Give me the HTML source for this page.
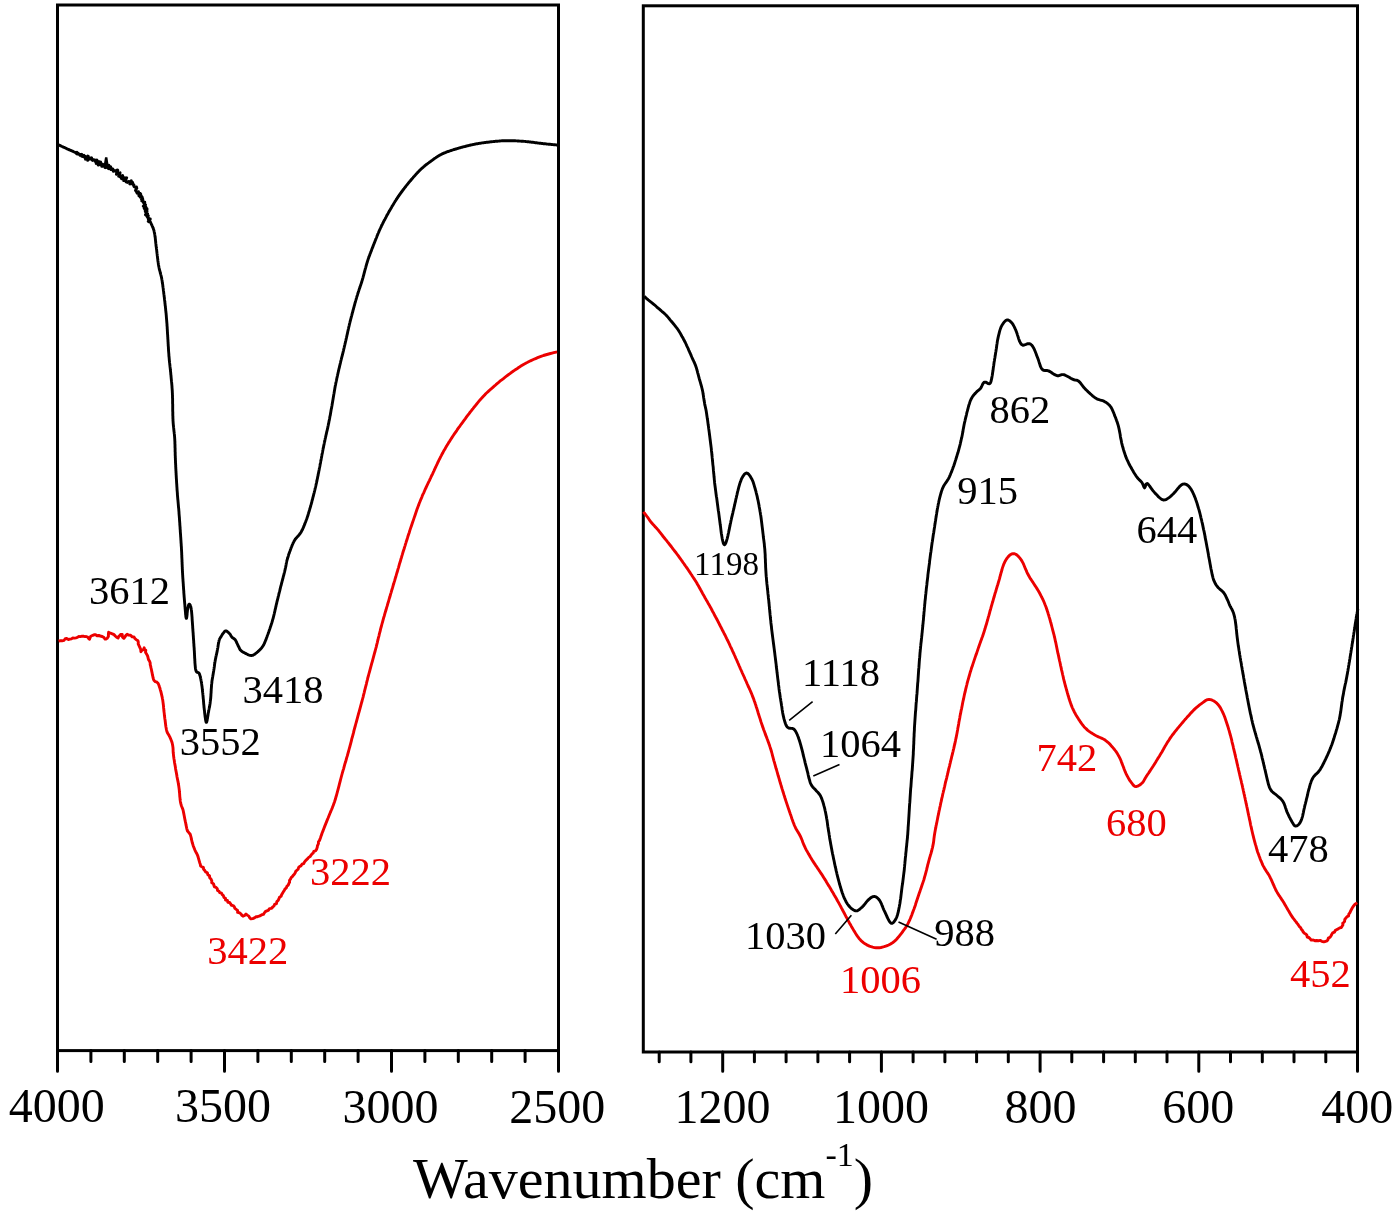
<!DOCTYPE html>
<html><head><meta charset="utf-8"><title>FTIR spectra</title>
<style>html,body{margin:0;padding:0;background:#fff;}body{width:1400px;height:1214px;overflow:hidden;font-family:"Liberation Serif",serif;}svg{display:block;will-change:transform;}</style>
</head><body>
<svg width="1400" height="1214" viewBox="0 0 1400 1214" font-family="'Liberation Serif', serif"><rect x="57.5" y="5.0" width="501.0" height="1045.6" fill="none" stroke="#000" stroke-width="3"/>
<rect x="643.3" y="5.8" width="714.2" height="1046.2" fill="none" stroke="#000" stroke-width="3"/>
<path d="M57.5 1050.6 V1071.3M90.9 1050.6 V1061.4M124.3 1050.6 V1061.4M157.7 1050.6 V1061.4M191.1 1050.6 V1061.4M224.5 1050.6 V1071.3M257.9 1050.6 V1061.4M291.3 1050.6 V1061.4M324.7 1050.6 V1061.4M358.1 1050.6 V1061.4M391.5 1050.6 V1071.3M424.9 1050.6 V1061.4M458.3 1050.6 V1061.4M491.7 1050.6 V1061.4M525.1 1050.6 V1061.4M558.5 1050.6 V1071.3M659.2 1052.0 V1061.8M690.9 1052.0 V1061.8M722.7 1052.0 V1071.3M754.4 1052.0 V1061.8M786.1 1052.0 V1061.8M817.9 1052.0 V1061.8M849.6 1052.0 V1061.8M881.4 1052.0 V1071.3M913.1 1052.0 V1061.8M944.9 1052.0 V1061.8M976.6 1052.0 V1061.8M1008.3 1052.0 V1061.8M1040.1 1052.0 V1071.3M1071.8 1052.0 V1061.8M1103.6 1052.0 V1061.8M1135.3 1052.0 V1061.8M1167.0 1052.0 V1061.8M1198.8 1052.0 V1071.3M1230.5 1052.0 V1061.8M1262.3 1052.0 V1061.8M1294.0 1052.0 V1061.8M1325.8 1052.0 V1061.8M1357.5 1052.0 V1071.3" stroke="#000" stroke-width="3" stroke-linecap="round" fill="none"/>
<path d="M58.6,641.2 59.9,640.8 62.0,640.8 64.1,640.3 65.2,638.7 66.7,638.5 68.4,639.5 69.9,639.2 71.4,638.9 72.8,638.0 74.4,638.1 75.9,637.8 77.4,637.4 78.8,636.5 80.4,636.6 82.1,636.1 83.8,636.3 85.2,636.6 86.1,636.5 87.7,637.1 88.8,638.7 89.6,639.2 89.9,638.2 90.8,636.2 92.8,635.3 94.0,634.8 95.6,634.8 97.1,635.8 98.8,635.5 100.3,636.0 102.2,636.5 104.0,637.6 105.1,639.1 106.0,639.1 107.1,638.4 108.4,636.5 108.4,634.2 108.6,632.3 110.5,633.2 112.3,633.8 114.1,634.6 115.2,636.0 116.6,637.2 118.1,638.0 118.8,636.3 120.4,635.0 120.6,634.4 122.2,634.5 122.5,637.1 123.9,638.3 124.8,637.1 125.9,635.4 127.1,634.3 128.6,635.1 130.6,635.3 132.2,636.9 134.0,637.0 134.9,638.5 136.2,639.6 137.9,640.7 138.3,642.1 138.2,643.9 139.0,645.6 139.8,647.4 140.6,649.1 140.8,650.4 140.9,651.7 141.7,650.6 143.6,649.4 144.2,647.8 144.3,649.3 145.8,650.2 145.5,652.2 146.5,653.9 147.5,655.7 147.9,657.0 148.2,658.5 148.7,659.9 149.6,661.3 150.2,662.9 150.2,664.7 150.7,666.4 151.0,667.9 151.4,669.5 151.7,671.2 152.1,672.9 152.4,674.7 152.8,676.3 153.1,677.9 153.5,679.2 153.9,680.3 155.3,681.7 156.7,682.0 158.2,683.5 158.6,684.5 159.1,685.7 159.5,687.0 160.0,688.5 160.4,690.1 160.9,691.7 161.3,693.4 161.7,695.1 162.1,696.8 162.4,698.5 162.7,699.9 162.9,701.4 163.1,702.9 163.3,704.5 163.5,706.1 163.6,707.7 163.8,709.3 163.9,710.8 164.1,712.4 164.3,713.9 164.4,715.3 164.6,716.7 164.8,718.5 165.1,720.2 165.3,722.0 165.5,723.6 165.7,725.2 165.9,726.8 166.2,728.2 166.4,729.5 166.7,730.7 167.4,732.8 168.3,734.3 169.1,735.6 169.9,737.1 170.5,738.5 171.1,740.0 171.7,741.5 172.2,743.2 172.6,745.0 172.8,746.4 173.0,747.8 173.1,749.3 173.1,750.8 173.2,752.5 173.4,754.2 173.6,756.1 173.8,757.5 174.0,759.0 174.3,760.6 174.5,762.2 174.8,763.9 175.1,765.5 175.4,767.2 175.6,768.9 175.9,770.5 176.2,772.1 176.5,773.6 176.8,775.2 177.0,776.7 177.3,778.2 177.6,779.7 177.9,781.1 178.2,782.6 178.4,784.1 178.7,785.6 178.9,787.1 179.1,788.6 179.3,790.2 179.4,791.8 179.6,793.4 179.7,795.0 179.8,796.6 180.0,798.1 180.1,799.5 180.3,800.9 180.5,802.1 180.9,803.9 181.3,805.4 181.8,806.7 182.3,807.9 182.8,809.2 183.2,810.7 183.5,812.1 183.8,813.6 184.1,815.2 184.4,816.8 184.7,818.4 185.0,819.9 185.3,821.4 185.7,823.1 186.0,824.9 186.4,826.7 186.7,828.3 187.1,829.8 187.5,831.0 188.9,832.7 190.2,834.2 190.6,835.6 191.1,837.3 191.4,839.2 191.9,841.1 192.3,842.8 192.8,844.4 193.3,846.0 193.9,847.5 194.5,849.0 195.0,850.3 195.7,851.7 196.4,852.9 197.0,854.2 197.7,855.7 198.2,857.3 198.7,859.1 199.2,860.9 199.7,862.7 200.3,864.2 200.6,866.0 201.9,866.8 203.4,867.3 203.6,869.3 204.7,870.4 205.5,871.9 207.4,872.8 207.8,874.7 209.5,875.7 209.7,877.7 211.0,879.1 211.8,880.8 211.7,882.8 213.5,883.7 213.9,885.4 214.5,886.9 216.1,887.4 217.3,888.7 217.5,890.4 219.0,891.2 219.7,892.6 221.5,893.2 222.2,894.7 223.4,895.7 223.9,897.4 225.5,898.2 225.5,900.1 227.4,900.4 227.8,902.2 229.6,902.5 230.6,903.8 231.4,905.3 233.2,905.6 234.3,906.7 234.9,908.4 236.2,909.4 237.6,910.4 237.6,912.4 239.3,912.7 240.9,913.9 241.9,915.3 243.0,916.2 244.6,915.5 246.0,914.0 247.3,915.1 248.8,916.1 249.7,917.7 250.9,918.9 252.7,918.6 254.5,917.9 256.1,916.8 257.5,916.7 259.0,916.2 260.5,915.6 261.8,914.7 263.4,914.4 264.3,913.0 265.3,911.6 266.8,910.9 268.3,910.4 269.5,908.6 271.4,908.4 272.9,906.9 274.0,906.0 274.6,904.4 276.5,903.6 276.8,901.6 278.2,900.4 278.9,898.9 279.5,897.2 281.1,896.3 281.6,894.7 282.5,893.2 283.4,891.7 284.3,890.5 284.9,889.1 286.3,887.9 286.9,886.3 288.2,885.1 288.8,883.6 289.6,882.3 289.5,880.4 290.5,879.1 291.1,877.7 292.3,876.7 293.2,875.4 294.3,874.3 295.1,873.0 295.7,871.4 296.9,870.3 298.1,869.2 298.6,867.6 299.6,866.5 300.9,865.9 302.0,864.2 303.7,863.7 304.4,862.1 305.6,860.6 306.6,859.7 307.7,858.6 308.7,857.4 310.1,856.5 311.1,855.2 311.9,853.9 313.2,853.1 313.8,851.4 315.5,850.9 316.5,849.5 317.3,847.1 317.4,845.9 317.9,844.8 318.5,843.5 318.4,841.9 319.4,840.6 320.0,839.1 320.6,837.5 321.1,835.9 321.7,834.4 322.2,832.8 322.8,831.4 323.3,830.0 323.9,828.4 324.5,826.9 325.1,825.4 325.7,823.9 326.3,822.4 326.9,820.9 327.5,819.4 328.1,818.0 328.7,816.5 329.3,815.0 329.9,813.5 330.5,812.2 331.0,810.8 331.6,809.5 332.2,808.1 332.7,806.7 333.3,805.2 333.9,803.6 334.5,801.9 335.1,800.0 335.5,798.8 335.8,797.5 336.2,796.2 336.6,794.8 337.0,793.4 337.4,791.9 337.8,790.4 338.2,788.9 338.6,787.4 339.0,785.8 339.4,784.2 339.8,782.7 340.2,781.1 340.6,779.5 341.0,778.0 341.4,776.5 341.8,775.0 342.2,773.5 342.6,772.1 343.0,770.6 343.5,769.1 343.9,767.6 344.3,766.2 344.7,764.7 345.1,763.2 345.6,761.8 346.0,760.3 346.4,758.8 346.8,757.4 347.3,755.9 347.7,754.4 348.1,752.9 348.5,751.5 348.9,750.0 349.3,748.5 349.7,747.1 350.1,745.6 350.5,744.1 350.9,742.6 351.3,741.2 351.6,739.7 352.0,738.2 352.4,736.8 352.8,735.3 353.2,733.8 353.6,732.4 353.9,730.9 354.3,729.4 354.7,727.9 355.1,726.5 355.5,725.0 355.9,723.5 356.3,722.1 356.7,720.6 357.1,719.1 357.5,717.6 357.9,716.2 358.3,714.7 358.7,713.2 359.1,711.8 359.5,710.3 359.9,708.8 360.3,707.4 360.7,705.9 361.1,704.4 361.5,702.9 361.9,701.5 362.3,700.0 362.7,698.5 363.1,697.1 363.4,695.6 363.8,694.1 364.2,692.6 364.5,691.2 364.9,689.7 365.3,688.2 365.6,686.8 366.0,685.3 366.4,683.8 366.7,682.4 367.1,680.9 367.5,679.4 367.8,677.9 368.2,676.5 368.6,675.0 369.0,673.5 369.4,672.1 369.8,670.6 370.2,669.1 370.6,667.6 371.0,666.2 371.4,664.7 371.8,663.2 372.2,661.8 372.6,660.3 373.0,658.8 373.4,657.4 373.8,655.9 374.2,654.4 374.6,652.9 375.0,651.5 375.4,650.0 375.8,648.5 376.2,647.1 376.5,645.6 376.9,644.1 377.3,642.6 377.6,641.2 378.0,639.7 378.3,638.2 378.7,636.8 379.1,635.3 379.4,633.8 379.8,632.4 380.2,630.9 380.5,629.4 380.9,627.9 381.3,626.5 381.7,625.0 382.1,623.5 382.5,622.1 382.9,620.6 383.3,619.1 383.7,617.6 384.2,616.2 384.6,614.7 385.0,613.2 385.4,611.8 385.9,610.3 386.3,608.8 386.7,607.4 387.2,605.9 387.6,604.4 388.0,602.9 388.5,601.5 388.9,600.0 389.3,598.5 389.8,597.1 390.2,595.6 390.6,594.1 391.1,592.6 391.5,591.2 391.9,589.7 392.4,588.2 392.8,586.8 393.2,585.3 393.7,583.8 394.1,582.4 394.6,580.9 395.0,579.4 395.4,577.9 395.9,576.5 396.3,575.0 396.7,573.5 397.2,572.1 397.6,570.6 398.0,569.1 398.5,567.6 398.9,566.2 399.3,564.7 399.7,563.2 400.2,561.8 400.6,560.3 401.0,558.8 401.5,557.4 401.9,555.9 402.4,554.4 402.8,552.9 403.2,551.5 403.7,550.0 404.2,548.5 404.6,547.1 405.1,545.6 405.5,544.1 406.0,542.6 406.4,541.2 406.9,539.7 407.4,538.2 407.8,536.8 408.3,535.3 408.8,533.8 409.3,532.4 409.7,530.9 410.2,529.4 410.7,527.9 411.2,526.5 411.7,525.0 412.2,523.5 412.7,522.1 413.2,520.6 413.7,519.1 414.2,517.6 414.7,516.2 415.2,514.7 415.7,513.2 416.2,511.8 416.7,510.3 417.2,508.8 417.8,507.4 418.3,505.9 418.9,504.4 419.4,502.9 420.0,501.5 420.6,500.0 421.2,498.6 421.8,497.2 422.3,495.8 422.9,494.4 423.6,493.1 424.2,491.7 424.8,490.3 425.4,488.9 426.1,487.5 426.7,486.1 427.4,484.7 428.0,483.3 428.7,481.9 429.4,480.6 430.0,479.2 430.7,477.8 431.3,476.4 432.0,475.0 432.7,473.6 433.3,472.2 434.0,470.8 434.6,469.4 435.2,468.1 435.9,466.7 436.5,465.3 437.2,463.9 437.8,462.5 438.5,461.1 439.2,459.7 439.9,458.3 440.6,456.9 441.3,455.6 442.0,454.2 442.8,452.8 443.5,451.4 444.3,450.0 445.1,448.7 445.8,447.4 446.6,446.1 447.4,444.7 448.2,443.4 449.0,442.1 449.9,440.8 450.7,439.5 451.6,438.2 452.4,436.8 453.3,435.5 454.2,434.2 455.1,432.9 456.0,431.6 456.9,430.3 457.8,428.9 458.7,427.6 459.7,426.3 460.6,425.0 461.5,423.8 462.4,422.6 463.3,421.3 464.2,420.1 465.2,418.8 466.1,417.5 467.1,416.2 468.1,414.9 469.1,413.6 470.0,412.3 471.0,411.1 472.0,409.8 473.0,408.6 473.9,407.4 474.9,406.2 475.8,405.1 476.7,404.0 477.6,402.9 478.4,401.9 479.2,400.9 480.0,400.0 481.4,398.4 482.7,397.0 483.9,395.7 485.0,394.6 486.0,393.5 487.1,392.5 488.1,391.6 489.1,390.7 490.2,389.7 491.4,388.7 492.6,387.6 493.7,386.6 494.8,385.7 495.9,384.7 497.1,383.7 498.3,382.7 499.4,381.7 500.6,380.7 501.8,379.8 503.1,378.8 504.3,377.8 505.5,376.9 506.8,375.9 508.0,375.0 509.2,374.1 510.5,373.2 511.8,372.2 513.1,371.3 514.4,370.4 515.7,369.5 517.0,368.7 518.3,367.8 519.6,366.9 520.9,366.1 522.2,365.3 523.5,364.5 524.8,363.8 526.2,363.0 527.6,362.3 529.1,361.5 530.5,360.8 531.9,360.2 533.3,359.5 534.8,358.9 536.2,358.3 537.6,357.7 539.0,357.1 540.3,356.6 541.7,356.1 543.4,355.5 545.1,355.0 546.9,354.5 548.7,354.0 550.5,353.5 552.1,353.1 553.7,352.7 555.0,352.4 556.2,352.1 557.1,351.9" stroke="#ec0000" stroke-width="2.9" fill="none" stroke-linejoin="round"/>
<path d="M58.0,144.6 58.3,144.7 58.7,144.9 59.2,145.1 59.7,145.4 60.2,145.6 60.8,145.9 61.5,146.2 62.1,146.5 62.8,146.8 63.4,147.1 64.1,147.4 64.8,147.7 65.4,148.0 66.0,148.3 66.6,148.6 67.1,148.8 67.7,149.1 68.3,149.3 68.9,149.6 69.5,149.9 70.1,150.1 70.7,150.4 71.3,150.7 71.9,150.9 72.5,151.2 73.0,151.4 73.6,151.7 74.2,152.0 74.7,152.2 75.3,152.5 75.9,152.7 76.8,152.3 76.7,153.9 77.3,154.0 78.3,153.3 78.6,154.0 79.2,154.2 79.6,154.8 80.0,155.3 81.2,154.3 81.8,154.5 81.7,156.2 82.6,155.7 82.8,156.6 84.0,155.4 84.1,156.5 84.4,157.2 85.4,156.6 85.3,158.2 85.5,159.2 87.7,156.0 88.3,156.3 87.9,158.6 87.7,160.4 89.3,158.5 90.2,158.1 90.4,159.1 91.6,157.8 91.9,158.8 92.1,159.9 92.5,160.4 93.6,159.6 94.2,159.8 94.8,160.0 95.0,161.3 95.9,160.8 96.9,160.0 96.2,163.5 97.2,162.6 97.6,163.2 99.0,161.6 98.2,165.1 98.9,164.8 100.6,162.0 101.0,163.1 100.9,164.9 101.5,165.1 101.7,166.3 103.1,164.4 102.9,166.2 103.7,165.8 104.9,164.6 105.0,166.0 105.0,167.5 105.8,167.7 106.9,166.6 107.2,167.1 108.8,165.2 108.9,166.3 108.4,168.7 109.7,167.5 110.7,166.8 110.5,168.6 110.8,169.5 111.4,169.7 112.6,168.8 113.0,169.4 113.4,170.0 113.4,171.4 114.5,170.7 115.4,170.6 115.7,171.3 117.3,169.9 117.8,170.4 116.7,173.1 116.4,174.4 117.9,173.4 119.0,173.1 120.1,172.8 119.6,174.3 118.7,176.3 119.7,176.0 120.9,175.7 120.4,177.1 122.7,175.5 122.3,176.8 121.5,178.7 123.0,177.8 123.8,177.8 124.8,177.6 124.4,178.9 123.7,180.6 126.7,177.7 125.3,180.8 125.8,181.4 126.2,182.0 127.1,181.8 127.5,182.4 128.7,181.5 129.1,182.0 129.9,181.8 131.3,180.7 129.9,184.0 131.1,183.3 132.7,182.4 132.3,183.9 132.8,184.4 133.5,184.5 133.9,184.9 133.8,185.8 133.9,186.4 134.3,186.9 135.0,187.1 136.5,186.9 136.3,187.8 136.8,188.2 136.0,189.5 135.5,190.5 136.0,190.9 136.3,191.5 136.6,192.1 138.5,191.8 137.1,193.2 137.9,193.5 139.9,193.1 140.3,193.5 140.7,194.1 138.9,195.8 140.6,195.5 141.3,195.8 140.1,197.1 141.2,197.2 142.3,197.3 142.3,198.0 141.5,199.1 142.8,199.1 142.8,199.8 141.8,200.9 142.8,201.1 143.4,201.5 143.2,202.3 144.8,202.3 144.0,203.4 144.1,204.0 145.0,204.3 145.5,204.8 143.3,206.2 144.6,206.4 145.8,206.7 144.7,207.7 144.2,208.5 146.9,208.5 147.1,209.1 146.8,209.8 145.2,210.9 147.1,211.1 145.6,212.2 145.9,212.8 146.4,213.3 147.6,213.6 145.5,214.8 146.2,215.3 147.2,215.5 148.3,215.7 147.2,216.7 148.2,217.1 148.0,218.0 149.0,218.3 148.4,219.3 150.3,219.0 149.9,219.9 148.3,221.4 148.9,221.8 150.2,221.7 150.5,222.2 150.8,222.7 151.0,223.3 151.3,223.9 151.5,224.4 151.8,224.9 152.0,225.5 152.2,226.0 152.4,226.5 152.6,227.0 152.9,227.5 153.1,228.1 153.3,228.6 153.5,229.2 153.7,229.8 153.9,230.4 154.1,231.1 154.2,231.8 154.4,232.6 154.5,233.1 154.6,233.6 154.7,234.1 154.8,234.7 154.9,235.2 154.9,235.8 155.0,236.4 155.1,236.9 155.2,237.5 155.3,238.1 155.3,238.8 155.4,239.4 155.5,240.0 155.5,240.7 155.6,241.3 155.7,242.0 155.7,242.6 155.8,243.3 155.9,244.0 156.0,244.6 156.0,245.3 156.1,246.0 156.2,246.7 156.3,247.4 156.4,247.9 156.4,248.5 156.5,249.1 156.6,249.6 156.7,250.2 156.7,250.8 156.8,251.4 156.9,252.0 156.9,252.6 157.0,253.3 157.1,253.9 157.2,254.5 157.2,255.1 157.3,255.8 157.4,256.4 157.5,257.0 157.5,257.7 157.6,258.3 157.7,258.9 157.8,259.5 157.8,260.1 157.9,260.8 158.0,261.4 158.1,262.0 158.2,262.6 158.3,263.1 158.3,263.7 158.4,264.3 158.5,264.8 158.6,265.4 158.7,265.9 158.8,266.6 159.0,267.2 159.1,267.9 159.2,268.5 159.3,269.1 159.5,269.6 159.6,270.2 159.8,270.8 159.9,271.3 160.1,271.8 160.2,272.4 160.3,272.9 160.5,273.4 160.6,274.0 160.8,274.5 160.9,275.1 161.1,275.7 161.2,276.3 161.4,276.9 161.5,277.6 161.6,278.2 161.8,279.0 161.9,279.7 162.0,280.2 162.1,280.7 162.2,281.3 162.2,281.8 162.3,282.4 162.4,282.9 162.5,283.5 162.6,284.1 162.7,284.7 162.8,285.3 162.8,285.9 162.9,286.5 163.0,287.1 163.1,287.8 163.2,288.4 163.3,289.0 163.3,289.7 163.4,290.3 163.5,291.0 163.6,291.6 163.7,292.3 163.7,292.9 163.8,293.5 163.9,294.2 164.0,294.8 164.1,295.5 164.1,296.1 164.2,296.7 164.3,297.3 164.4,297.9 164.4,298.6 164.5,299.2 164.6,299.7 164.6,300.3 164.7,300.9 164.8,301.6 164.9,302.2 164.9,302.9 165.0,303.5 165.1,304.1 165.1,304.8 165.2,305.4 165.3,306.0 165.4,306.6 165.4,307.3 165.5,307.9 165.6,308.5 165.6,309.1 165.7,309.7 165.7,310.3 165.8,310.9 165.9,311.5 165.9,312.1 166.0,312.7 166.1,313.3 166.1,313.9 166.2,314.5 166.2,315.1 166.3,315.7 166.3,316.3 166.4,316.9 166.4,317.6 166.5,318.2 166.5,318.8 166.6,319.4 166.6,320.0 166.7,320.6 166.7,321.2 166.8,321.8 166.8,322.4 166.9,323.0 166.9,323.6 167.0,324.2 167.0,324.8 167.0,325.4 167.1,326.0 167.1,326.6 167.2,327.2 167.2,327.8 167.2,328.4 167.3,329.0 167.3,329.6 167.3,330.2 167.4,330.8 167.4,331.4 167.4,332.0 167.5,332.6 167.5,333.2 167.5,333.8 167.6,334.4 167.6,335.0 167.7,335.6 167.7,336.2 167.7,336.8 167.8,337.4 167.8,338.0 167.8,338.6 167.9,339.2 167.9,339.9 168.0,340.5 168.0,341.1 168.0,341.7 168.1,342.3 168.1,342.9 168.1,343.6 168.2,344.2 168.2,344.8 168.2,345.4 168.3,346.0 168.3,346.6 168.4,347.3 168.4,347.9 168.4,348.5 168.5,349.1 168.5,349.7 168.5,350.3 168.6,351.0 168.6,351.6 168.7,352.2 168.7,352.8 168.8,353.4 168.8,354.0 168.9,354.7 168.9,355.3 168.9,355.9 169.0,356.5 169.1,357.1 169.1,357.7 169.2,358.3 169.2,359.0 169.3,359.6 169.3,360.2 169.4,360.8 169.5,361.4 169.5,362.0 169.6,362.7 169.7,363.3 169.7,363.9 169.8,364.5 169.9,365.1 169.9,365.7 170.0,366.4 170.1,367.0 170.1,367.6 170.2,368.2 170.3,368.8 170.3,369.4 170.4,370.1 170.5,370.7 170.5,371.3 170.6,371.9 170.7,372.5 170.7,373.1 170.8,373.8 170.8,374.4 170.9,375.0 171.0,375.6 171.0,376.2 171.1,376.8 171.1,377.3 171.2,377.9 171.2,378.5 171.3,379.0 171.3,379.6 171.4,380.2 171.4,380.7 171.5,381.3 171.6,381.8 171.6,382.4 171.7,383.0 171.7,383.5 171.8,384.1 171.8,384.7 171.9,385.2 171.9,385.8 172.0,386.4 172.0,387.0 172.0,387.6 172.1,388.2 172.1,388.9 172.2,389.5 172.2,390.2 172.3,390.8 172.3,391.5 172.3,392.2 172.4,392.9 172.4,393.6 172.4,394.1 172.4,394.6 172.5,395.2 172.5,395.7 172.5,396.3 172.5,396.9 172.5,397.4 172.5,398.0 172.6,398.6 172.6,399.2 172.6,399.8 172.6,400.5 172.6,401.1 172.6,401.7 172.6,402.3 172.6,403.0 172.6,403.6 172.7,404.2 172.7,404.9 172.7,405.5 172.7,406.2 172.7,406.8 172.7,407.5 172.7,408.1 172.7,408.7 172.7,409.4 172.7,410.0 172.7,410.7 172.7,411.3 172.8,411.9 172.8,412.5 172.8,413.2 172.8,413.8 172.8,414.4 172.8,415.0 172.8,415.6 172.9,416.2 172.9,416.7 172.9,417.3 172.9,417.9 172.9,418.4 173.0,419.0 173.0,419.5 173.0,420.0 173.0,420.7 173.1,421.5 173.1,422.2 173.2,422.9 173.2,423.5 173.3,424.2 173.3,424.9 173.4,425.5 173.5,426.1 173.5,426.7 173.6,427.4 173.7,428.0 173.7,428.6 173.8,429.2 173.8,429.7 173.9,430.3 174.0,430.9 174.0,431.5 174.1,432.0 174.2,432.6 174.2,433.2 174.3,433.8 174.4,434.3 174.4,434.9 174.5,435.5 174.5,436.1 174.6,436.7 174.6,437.3 174.7,437.9 174.7,438.5 174.7,439.1 174.8,439.7 174.8,440.3 174.8,440.9 174.9,441.5 174.9,442.1 174.9,442.7 174.9,443.3 174.9,443.9 175.0,444.5 175.0,445.1 175.0,445.7 175.0,446.3 175.0,446.9 175.0,447.5 175.1,448.1 175.1,448.7 175.1,449.3 175.1,449.9 175.1,450.5 175.1,451.1 175.1,451.7 175.2,452.3 175.2,452.9 175.2,453.5 175.2,454.1 175.2,454.7 175.2,455.3 175.3,455.9 175.3,456.5 175.3,457.1 175.3,457.7 175.4,458.3 175.4,459.0 175.4,459.6 175.4,460.2 175.5,460.8 175.5,461.4 175.5,462.0 175.5,462.7 175.6,463.3 175.6,463.9 175.6,464.5 175.7,465.1 175.7,465.7 175.7,466.4 175.7,467.0 175.8,467.6 175.8,468.2 175.8,468.8 175.9,469.4 175.9,470.1 175.9,470.7 176.0,471.3 176.0,471.9 176.0,472.5 176.1,473.1 176.1,473.8 176.1,474.4 176.2,475.0 176.2,475.6 176.2,476.2 176.3,476.8 176.3,477.4 176.3,478.1 176.4,478.7 176.4,479.3 176.5,479.9 176.5,480.5 176.5,481.1 176.6,481.8 176.6,482.4 176.6,483.0 176.7,483.6 176.7,484.2 176.8,484.8 176.8,485.5 176.8,486.1 176.9,486.7 176.9,487.3 177.0,487.9 177.0,488.5 177.0,489.2 177.1,489.8 177.1,490.4 177.2,491.0 177.2,491.6 177.3,492.2 177.3,492.9 177.4,493.5 177.4,494.1 177.4,494.7 177.5,495.3 177.5,495.9 177.6,496.5 177.6,497.1 177.7,497.7 177.7,498.3 177.8,498.9 177.8,499.5 177.9,500.1 178.0,500.7 178.0,501.3 178.1,501.9 178.1,502.5 178.2,503.1 178.2,503.7 178.3,504.3 178.3,504.9 178.4,505.5 178.4,506.1 178.5,506.7 178.5,507.3 178.6,507.9 178.7,508.5 178.7,509.1 178.8,509.7 178.8,510.3 178.9,510.9 178.9,511.5 179.0,512.1 179.0,512.7 179.0,513.3 179.1,513.9 179.1,514.6 179.2,515.2 179.2,515.8 179.3,516.4 179.3,517.0 179.4,517.6 179.4,518.3 179.5,518.9 179.5,519.5 179.5,520.1 179.6,520.7 179.6,521.3 179.7,522.0 179.7,522.6 179.8,523.2 179.8,523.8 179.8,524.4 179.9,525.0 179.9,525.7 180.0,526.3 180.0,526.9 180.1,527.5 180.1,528.1 180.1,528.7 180.2,529.4 180.2,530.0 180.3,530.6 180.3,531.2 180.3,531.8 180.4,532.4 180.4,533.0 180.5,533.7 180.5,534.3 180.6,534.9 180.6,535.5 180.6,536.1 180.7,536.7 180.7,537.3 180.8,537.9 180.8,538.5 180.8,539.1 180.9,539.7 180.9,540.3 181.0,540.9 181.0,541.6 181.0,542.2 181.1,542.8 181.1,543.4 181.2,544.0 181.2,544.6 181.2,545.3 181.3,545.9 181.3,546.5 181.4,547.1 181.4,547.8 181.4,548.4 181.5,549.1 181.5,549.7 181.5,550.3 181.6,550.9 181.6,551.5 181.6,552.1 181.7,552.7 181.7,553.4 181.7,554.0 181.7,554.6 181.8,555.3 181.8,555.9 181.8,556.5 181.8,557.2 181.9,557.8 181.9,558.5 181.9,559.1 182.0,559.8 182.0,560.4 182.0,561.0 182.0,561.7 182.1,562.3 182.1,562.9 182.1,563.6 182.1,564.2 182.2,564.8 182.2,565.4 182.2,566.0 182.2,566.6 182.3,567.2 182.3,567.8 182.3,568.4 182.3,568.9 182.4,569.5 182.4,570.0 182.4,570.7 182.5,571.4 182.5,572.1 182.5,572.7 182.6,573.4 182.6,574.0 182.6,574.6 182.7,575.2 182.7,575.7 182.7,576.3 182.8,576.9 182.8,577.4 182.8,578.0 182.9,578.6 182.9,579.1 183.0,579.7 183.0,580.3 183.0,580.9 183.1,581.5 183.1,582.1 183.2,582.7 183.2,583.4 183.3,584.1 183.3,584.8 183.3,585.3 183.4,585.9 183.4,586.4 183.5,587.0 183.5,587.6 183.5,588.2 183.6,588.8 183.6,589.4 183.7,590.0 183.7,590.6 183.8,591.3 183.8,591.9 183.8,592.5 183.9,593.2 183.9,593.8 184.0,594.4 184.0,595.1 184.1,595.7 184.1,596.4 184.2,597.0 184.2,597.6 184.3,598.3 184.3,598.9 184.4,599.5 184.4,600.1 184.5,600.7 184.5,601.3 184.6,601.9 184.6,602.4 184.7,603.0 184.7,603.6 184.8,604.1 184.8,604.6 184.9,605.3 184.9,606.1 185.0,606.9 185.1,607.7 185.1,608.4 185.2,609.2 185.3,610.0 185.3,610.8 185.4,611.5 185.5,612.3 185.5,613.0 185.6,613.7 185.6,614.4 185.7,615.0 185.8,615.6 185.8,616.1 185.9,616.6 186.0,617.1 186.0,617.5 186.1,617.8 186.2,618.1 186.2,618.3 186.3,618.4 186.4,618.4 186.5,618.3 186.6,617.9 186.7,617.5 186.8,616.9 186.9,616.2 187.0,615.4 187.1,614.6 187.1,613.7 187.2,612.9 187.3,612.0 187.4,611.1 187.5,610.4 187.6,609.6 187.7,609.0 187.8,608.5 188.0,607.5 188.2,606.6 188.4,605.7 188.6,605.0 188.8,604.5 189.1,604.2 189.3,604.1 189.5,604.2 189.7,604.4 190.0,604.7 190.2,605.1 190.4,605.7 190.7,606.4 190.9,607.3 191.1,608.3 191.3,609.5 191.4,609.9 191.4,610.3 191.5,610.8 191.5,611.3 191.6,611.8 191.6,612.3 191.7,612.8 191.7,613.4 191.8,614.0 191.8,614.6 191.9,615.2 191.9,615.8 192.0,616.4 192.0,617.1 192.1,617.7 192.1,618.4 192.1,619.0 192.2,619.7 192.2,620.4 192.3,621.1 192.3,621.8 192.4,622.5 192.4,623.1 192.5,623.8 192.5,624.5 192.6,625.2 192.6,625.9 192.7,626.6 192.7,627.3 192.7,627.9 192.8,628.4 192.8,629.0 192.9,629.6 192.9,630.1 192.9,630.7 193.0,631.3 193.0,631.9 193.1,632.5 193.1,633.1 193.2,633.7 193.2,634.3 193.2,634.9 193.3,635.5 193.3,636.2 193.4,636.8 193.4,637.4 193.4,638.0 193.5,638.6 193.5,639.3 193.6,639.9 193.6,640.5 193.7,641.1 193.7,641.8 193.7,642.4 193.8,643.0 193.8,643.6 193.9,644.3 193.9,644.9 193.9,645.5 194.0,646.1 194.0,646.7 194.1,647.3 194.1,647.9 194.2,648.5 194.2,649.1 194.2,649.7 194.3,650.4 194.3,651.0 194.4,651.7 194.4,652.4 194.4,653.0 194.5,653.7 194.5,654.4 194.5,655.1 194.6,655.8 194.6,656.5 194.6,657.2 194.7,657.9 194.7,658.5 194.8,659.2 194.8,659.9 194.8,660.6 194.9,661.2 194.9,661.9 194.9,662.5 195.0,663.2 195.0,663.8 195.1,664.4 195.1,665.0 195.2,665.6 195.2,666.1 195.3,666.7 195.3,667.2 195.4,667.7 195.4,668.1 195.5,668.6 195.6,669.0 195.6,669.4 195.7,669.8 196.1,671.0 196.5,671.8 196.9,672.2 197.4,672.4 197.9,672.5 198.4,672.6 198.8,672.9 199.2,673.5 199.4,673.9 199.6,674.4 199.7,674.9 199.9,675.4 200.1,676.0 200.2,676.5 200.4,677.1 200.5,677.7 200.6,678.3 200.8,679.0 200.9,679.6 201.0,680.3 201.2,681.0 201.3,681.7 201.4,682.4 201.5,682.9 201.6,683.5 201.7,684.0 201.7,684.6 201.8,685.2 201.9,685.8 202.0,686.4 202.1,687.0 202.1,687.6 202.2,688.2 202.3,688.8 202.3,689.4 202.4,690.1 202.5,690.7 202.5,691.4 202.6,692.0 202.7,692.7 202.8,693.3 202.8,694.0 202.9,694.7 203.0,695.3 203.0,695.9 203.1,696.5 203.1,697.1 203.2,697.7 203.2,698.3 203.3,698.9 203.4,699.6 203.4,700.2 203.5,700.8 203.5,701.5 203.6,702.1 203.6,702.8 203.7,703.4 203.7,704.1 203.8,704.7 203.9,705.3 203.9,706.0 204.0,706.6 204.0,707.2 204.1,707.8 204.2,708.4 204.2,709.0 204.3,709.6 204.4,710.3 204.5,711.0 204.6,711.7 204.6,712.5 204.7,713.3 204.8,714.1 204.9,714.9 205.0,715.7 205.1,716.5 205.2,717.2 205.3,717.9 205.4,718.6 205.5,719.3 205.6,719.9 205.7,720.5 205.8,721.0 205.9,721.4 206.0,721.8 206.1,722.1 206.2,722.3 206.3,722.4 206.4,722.4 206.6,722.2 206.7,722.0 206.8,721.6 206.9,721.1 207.1,720.5 207.2,719.9 207.3,719.1 207.5,718.4 207.6,717.6 207.7,716.7 207.9,715.9 208.0,715.0 208.1,714.2 208.2,713.4 208.4,712.7 208.5,712.0 208.6,711.4 208.7,710.9 208.8,710.3 208.9,709.8 209.0,709.2 209.1,708.7 209.2,708.1 209.4,707.5 209.5,706.9 209.6,706.4 209.7,705.8 209.8,705.2 209.9,704.6 210.0,704.0 210.1,703.3 210.2,702.7 210.2,702.0 210.3,701.4 210.4,700.7 210.5,700.0 210.6,699.5 210.6,698.9 210.7,698.4 210.7,697.8 210.8,697.2 210.8,696.6 210.9,696.0 210.9,695.3 210.9,694.7 211.0,694.1 211.0,693.4 211.1,692.8 211.1,692.2 211.1,691.5 211.2,690.9 211.2,690.2 211.2,689.6 211.3,689.0 211.3,688.3 211.4,687.7 211.4,687.1 211.5,686.5 211.5,685.9 211.5,685.3 211.6,684.8 211.6,684.2 211.7,683.7 211.8,683.0 211.9,682.3 211.9,681.6 212.0,680.9 212.1,680.3 212.2,679.7 212.3,679.1 212.4,678.5 212.5,677.9 212.6,677.3 212.7,676.7 212.8,676.2 212.9,675.6 213.0,675.0 213.1,674.4 213.2,673.8 213.3,673.2 213.4,672.6 213.5,672.0 213.6,671.4 213.7,670.8 213.8,670.1 213.9,669.5 214.0,668.9 214.1,668.2 214.2,667.6 214.3,666.9 214.4,666.3 214.5,665.6 214.5,665.0 214.6,664.3 214.7,663.7 214.8,663.1 214.9,662.4 215.0,661.8 215.1,661.3 215.2,660.7 215.3,660.1 215.4,659.6 215.5,658.9 215.7,658.2 215.8,657.5 215.9,656.9 216.0,656.3 216.2,655.7 216.3,655.2 216.4,654.6 216.6,654.1 216.7,653.5 216.8,652.9 216.9,652.3 217.1,651.7 217.2,651.0 217.3,650.4 217.4,649.8 217.5,649.2 217.6,648.5 217.8,647.8 217.9,647.2 218.0,646.5 218.1,645.8 218.2,645.1 218.3,644.4 218.4,643.8 218.5,643.2 218.7,642.5 218.8,642.0 218.9,641.4 219.0,640.9 219.1,640.5 219.4,639.6 219.6,638.9 219.9,638.4 220.2,638.0 220.4,637.6 220.7,637.2 221.0,636.7 221.3,636.2 221.6,635.6 222.0,635.0 222.3,634.5 222.7,633.9 223.0,633.4 223.4,633.0 223.9,632.4 224.3,631.8 224.8,631.3 225.3,631.0 225.9,630.9 226.4,631.0 226.9,631.3 227.5,631.7 228.0,632.2 228.6,632.7 229.1,633.2 229.6,633.7 230.0,634.2 230.4,634.7 230.7,635.3 231.0,635.9 231.4,636.4 231.7,636.9 232.1,637.4 232.6,637.8 233.1,638.2 233.6,638.4 234.1,638.8 234.7,639.2 235.2,639.8 235.5,640.2 235.8,640.7 236.1,641.3 236.4,641.9 236.6,642.5 236.9,643.1 237.2,643.7 237.5,644.3 237.8,644.9 238.0,645.5 238.3,646.0 238.6,646.6 238.9,647.3 239.2,647.8 239.5,648.4 239.7,648.9 240.0,649.4 240.3,649.9 240.7,650.3 241.1,650.7 241.6,651.1 242.0,651.5 242.5,651.8 243.1,652.1 243.7,652.4 244.4,652.8 244.9,653.1 245.4,653.3 246.0,653.7 246.7,654.0 247.3,654.3 247.9,654.6 248.6,654.9 249.2,655.1 249.9,655.3 250.4,655.4 251.0,655.5 251.6,655.5 252.2,655.4 252.7,655.3 253.2,655.1 253.7,654.8 254.3,654.5 254.8,654.1 255.4,653.7 256.0,653.2 256.4,652.9 256.8,652.6 257.2,652.2 257.6,651.9 258.1,651.5 258.5,651.1 259.0,650.7 259.4,650.3 259.9,649.8 260.4,649.3 260.8,648.8 261.3,648.3 261.7,647.8 262.1,647.2 262.5,646.7 262.9,646.1 263.2,645.6 263.5,645.2 263.7,644.7 264.0,644.2 264.2,643.7 264.5,643.1 264.7,642.6 264.9,642.0 265.2,641.5 265.4,640.9 265.6,640.3 265.9,639.8 266.1,639.2 266.3,638.6 266.5,638.0 266.8,637.3 267.0,636.7 267.2,636.1 267.4,635.5 267.7,634.8 267.9,634.2 268.1,633.7 268.3,633.1 268.5,632.6 268.7,632.0 268.9,631.5 269.1,630.9 269.3,630.3 269.5,629.7 269.7,629.2 269.9,628.6 270.1,628.0 270.3,627.4 270.5,626.8 270.7,626.2 270.9,625.6 271.1,625.0 271.3,624.4 271.5,623.8 271.7,623.2 271.9,622.5 272.1,621.9 272.3,621.3 272.4,620.7 272.6,620.0 272.8,619.4 273.0,618.8 273.1,618.3 273.3,617.7 273.4,617.1 273.6,616.5 273.7,615.9 273.9,615.3 274.0,614.7 274.2,614.1 274.3,613.5 274.4,612.9 274.6,612.3 274.7,611.7 274.9,611.1 275.0,610.4 275.1,609.8 275.3,609.2 275.4,608.6 275.6,608.0 275.7,607.4 275.8,606.8 276.0,606.2 276.1,605.6 276.2,605.0 276.4,604.4 276.5,603.8 276.7,603.2 276.8,602.6 276.9,602.0 277.1,601.4 277.2,600.8 277.4,600.2 277.5,599.6 277.7,599.0 277.8,598.5 278.0,597.9 278.1,597.3 278.2,596.7 278.4,596.1 278.5,595.6 278.7,595.0 278.8,594.4 278.9,593.8 279.1,593.3 279.2,592.7 279.4,592.1 279.5,591.5 279.7,590.9 279.8,590.4 280.0,589.8 280.1,589.2 280.2,588.6 280.4,588.0 280.5,587.4 280.7,586.8 280.8,586.2 281.0,585.6 281.2,585.0 281.3,584.4 281.5,583.8 281.6,583.2 281.8,582.5 282.0,581.9 282.1,581.2 282.3,580.6 282.5,580.0 282.6,579.3 282.8,578.7 283.0,578.1 283.1,577.4 283.3,576.8 283.4,576.2 283.6,575.6 283.8,575.0 283.9,574.4 284.1,573.8 284.2,573.2 284.4,572.6 284.5,572.1 284.6,571.5 284.8,571.0 284.9,570.5 285.0,570.0 285.2,569.2 285.3,568.5 285.5,567.8 285.6,567.1 285.8,566.5 285.9,565.9 286.0,565.3 286.1,564.7 286.2,564.2 286.3,563.6 286.4,563.1 286.5,562.5 286.6,562.0 286.7,561.4 286.9,560.8 287.0,560.2 287.2,559.6 287.4,559.0 287.5,558.4 287.7,557.9 287.9,557.3 288.1,556.7 288.3,556.1 288.4,555.5 288.6,554.8 288.8,554.2 289.0,553.6 289.3,553.0 289.5,552.4 289.7,551.8 289.9,551.3 290.1,550.7 290.3,550.1 290.5,549.6 290.7,549.0 290.9,548.5 291.1,547.9 291.4,547.2 291.6,546.6 291.9,546.0 292.1,545.5 292.3,544.9 292.6,544.3 292.8,543.8 293.1,543.2 293.3,542.7 293.6,542.2 293.9,541.6 294.2,541.1 294.5,540.5 294.8,540.0 295.1,539.5 295.5,539.0 295.8,538.5 296.2,538.1 296.6,537.6 297.0,537.2 297.4,536.7 297.9,536.3 298.3,535.8 298.7,535.3 299.1,534.9 299.5,534.4 300.0,533.8 300.3,533.3 300.7,532.7 301.1,532.1 301.4,531.6 301.6,531.1 301.9,530.6 302.2,530.0 302.5,529.5 302.7,528.9 303.0,528.3 303.3,527.7 303.5,527.1 303.8,526.5 304.0,525.9 304.3,525.3 304.5,524.6 304.8,524.0 305.0,523.4 305.2,522.8 305.5,522.2 305.7,521.7 305.9,521.1 306.1,520.5 306.3,520.0 306.5,519.4 306.8,518.7 307.0,518.1 307.2,517.5 307.4,516.9 307.6,516.3 307.8,515.7 308.0,515.2 308.1,514.6 308.3,514.0 308.5,513.4 308.6,512.9 308.8,512.3 309.0,511.7 309.2,511.2 309.3,510.6 309.5,510.0 309.7,509.4 309.8,508.9 310.0,508.3 310.2,507.8 310.3,507.2 310.5,506.7 310.6,506.1 310.8,505.6 310.9,505.0 311.1,504.5 311.3,503.9 311.4,503.3 311.6,502.7 311.8,502.1 311.9,501.4 312.1,500.7 312.3,500.0 312.4,499.5 312.6,499.0 312.7,498.4 312.8,497.9 313.0,497.3 313.1,496.7 313.3,496.2 313.4,495.6 313.6,495.0 313.7,494.4 313.9,493.7 314.1,493.1 314.2,492.5 314.4,491.9 314.5,491.2 314.7,490.6 314.8,490.0 315.0,489.3 315.1,488.7 315.3,488.1 315.4,487.5 315.6,486.8 315.7,486.2 315.9,485.6 316.0,485.0 316.1,484.4 316.3,483.8 316.4,483.2 316.5,482.7 316.6,482.1 316.8,481.5 316.9,480.9 317.0,480.4 317.1,479.8 317.2,479.2 317.4,478.7 317.5,478.1 317.6,477.5 317.7,476.9 317.8,476.4 318.0,475.8 318.1,475.2 318.2,474.6 318.3,473.9 318.4,473.3 318.6,472.7 318.7,472.0 318.8,471.4 319.0,470.7 319.1,470.0 319.2,469.5 319.3,468.9 319.4,468.3 319.5,467.8 319.6,467.2 319.8,466.6 319.9,466.0 320.0,465.3 320.1,464.7 320.2,464.1 320.4,463.4 320.5,462.8 320.6,462.1 320.7,461.5 320.8,460.8 321.0,460.2 321.1,459.5 321.2,458.9 321.3,458.2 321.5,457.6 321.6,456.9 321.7,456.3 321.8,455.7 321.9,455.0 322.0,454.4 322.2,453.8 322.3,453.2 322.4,452.7 322.5,452.1 322.6,451.6 322.7,451.0 322.8,450.5 322.9,450.0 323.0,449.2 323.2,448.5 323.3,447.8 323.5,447.2 323.6,446.5 323.7,445.9 323.8,445.3 324.0,444.7 324.1,444.1 324.2,443.6 324.3,443.0 324.4,442.5 324.5,441.9 324.7,441.4 324.8,440.9 324.9,440.3 325.0,439.8 325.1,439.2 325.2,438.7 325.4,438.1 325.5,437.5 325.6,436.9 325.8,436.3 325.9,435.7 326.0,435.1 326.2,434.5 326.3,433.9 326.4,433.3 326.6,432.7 326.7,432.1 326.8,431.5 327.0,431.0 327.1,430.4 327.3,429.8 327.4,429.2 327.5,428.6 327.7,428.0 327.8,427.4 327.9,426.8 328.0,426.2 328.2,425.6 328.3,425.0 328.4,424.4 328.5,423.8 328.7,423.2 328.8,422.6 328.9,422.0 329.0,421.4 329.1,420.8 329.3,420.2 329.4,419.6 329.5,419.0 329.6,418.5 329.7,417.9 329.8,417.3 329.9,416.7 330.0,416.1 330.2,415.5 330.3,414.9 330.4,414.3 330.5,413.7 330.6,413.1 330.7,412.5 330.8,411.9 330.9,411.3 331.0,410.7 331.1,410.1 331.2,409.5 331.3,408.9 331.5,408.3 331.6,407.7 331.7,407.1 331.8,406.5 331.9,406.0 332.0,405.4 332.1,404.8 332.2,404.2 332.3,403.6 332.4,403.0 332.5,402.4 332.6,401.8 332.7,401.2 332.8,400.6 332.9,400.0 333.0,399.4 333.1,398.8 333.2,398.2 333.3,397.6 333.4,397.0 333.5,396.4 333.6,395.8 333.7,395.2 333.8,394.6 333.9,394.0 334.0,393.5 334.1,392.9 334.2,392.3 334.3,391.7 334.4,391.1 334.5,390.5 334.6,389.9 334.7,389.3 334.8,388.7 334.9,388.1 335.0,387.5 335.1,386.9 335.2,386.3 335.3,385.7 335.5,385.1 335.6,384.5 335.7,383.9 335.8,383.3 335.9,382.7 336.1,382.1 336.2,381.5 336.3,381.0 336.4,380.4 336.6,379.8 336.7,379.2 336.8,378.6 336.9,378.0 337.1,377.4 337.2,376.8 337.3,376.2 337.5,375.6 337.6,375.0 337.7,374.4 337.9,373.8 338.0,373.2 338.1,372.6 338.3,372.0 338.4,371.4 338.5,370.8 338.7,370.2 338.8,369.6 338.9,369.0 339.1,368.5 339.2,367.9 339.4,367.3 339.5,366.7 339.6,366.1 339.8,365.5 339.9,364.9 340.1,364.3 340.2,363.7 340.4,363.1 340.5,362.5 340.6,361.9 340.8,361.3 340.9,360.7 341.1,360.1 341.2,359.5 341.4,358.9 341.5,358.3 341.7,357.7 341.8,357.1 342.0,356.5 342.1,356.0 342.3,355.4 342.4,354.8 342.6,354.2 342.7,353.6 342.9,353.0 343.0,352.4 343.2,351.8 343.3,351.2 343.5,350.6 343.6,350.0 343.7,349.4 343.9,348.8 344.0,348.2 344.2,347.6 344.3,347.0 344.4,346.4 344.6,345.8 344.7,345.2 344.9,344.6 345.0,344.0 345.1,343.5 345.3,342.9 345.4,342.3 345.5,341.7 345.7,341.1 345.8,340.5 346.0,339.9 346.1,339.3 346.2,338.7 346.4,338.1 346.5,337.5 346.6,336.9 346.8,336.3 346.9,335.7 347.0,335.1 347.2,334.5 347.3,333.9 347.4,333.3 347.6,332.7 347.7,332.1 347.8,331.5 347.9,331.0 348.1,330.4 348.2,329.8 348.3,329.2 348.5,328.6 348.6,328.0 348.7,327.4 348.9,326.8 349.0,326.2 349.2,325.6 349.3,325.0 349.4,324.4 349.6,323.8 349.7,323.2 349.9,322.6 350.0,322.0 350.2,321.4 350.3,320.8 350.5,320.2 350.6,319.6 350.8,319.0 350.9,318.5 351.1,317.9 351.2,317.3 351.4,316.7 351.6,316.1 351.7,315.5 351.9,314.9 352.0,314.3 352.2,313.7 352.3,313.1 352.5,312.5 352.7,311.9 352.8,311.3 353.0,310.7 353.1,310.1 353.3,309.5 353.5,308.9 353.6,308.2 353.8,307.6 354.0,307.0 354.1,306.4 354.3,305.8 354.5,305.2 354.6,304.6 354.8,304.0 354.9,303.4 355.1,302.8 355.3,302.2 355.4,301.7 355.6,301.1 355.7,300.5 355.9,300.0 356.1,299.3 356.3,298.7 356.5,298.1 356.6,297.5 356.8,296.9 357.0,296.3 357.2,295.7 357.4,295.1 357.5,294.6 357.7,294.0 357.9,293.4 358.1,292.9 358.3,292.3 358.4,291.7 358.6,291.2 358.8,290.6 359.0,290.0 359.2,289.4 359.4,288.8 359.6,288.2 359.8,287.6 360.0,287.1 360.2,286.5 360.4,285.9 360.6,285.3 360.8,284.7 361.0,284.1 361.2,283.5 361.4,282.9 361.6,282.4 361.8,281.8 361.9,281.2 362.1,280.6 362.3,280.0 362.5,279.4 362.6,278.8 362.8,278.2 363.0,277.6 363.1,277.1 363.3,276.5 363.4,275.9 363.6,275.3 363.8,274.7 363.9,274.1 364.1,273.5 364.2,272.9 364.4,272.4 364.5,271.8 364.7,271.2 364.8,270.6 365.0,270.0 365.2,269.4 365.3,268.8 365.5,268.2 365.7,267.6 365.8,267.1 366.0,266.5 366.1,265.9 366.3,265.3 366.5,264.7 366.6,264.1 366.8,263.5 367.0,262.9 367.2,262.4 367.3,261.8 367.5,261.2 367.7,260.6 367.9,260.0 368.1,259.4 368.3,258.8 368.5,258.2 368.7,257.6 368.9,257.1 369.1,256.5 369.4,255.9 369.6,255.3 369.8,254.7 370.0,254.1 370.2,253.5 370.5,252.9 370.7,252.4 370.9,251.8 371.2,251.2 371.4,250.6 371.6,250.0 371.8,249.4 372.0,248.8 372.3,248.2 372.5,247.6 372.7,247.1 373.0,246.5 373.2,245.9 373.4,245.3 373.6,244.7 373.9,244.1 374.1,243.5 374.3,242.9 374.6,242.4 374.8,241.8 375.0,241.2 375.3,240.6 375.5,240.0 375.7,239.4 375.9,238.9 376.2,238.3 376.4,237.8 376.6,237.2 376.8,236.7 377.0,236.1 377.3,235.6 377.5,235.0 377.7,234.4 377.9,233.9 378.2,233.3 378.4,232.8 378.6,232.2 378.9,231.7 379.1,231.1 379.4,230.6 379.6,230.0 379.9,229.4 380.1,228.9 380.4,228.3 380.6,227.8 380.9,227.2 381.2,226.7 381.4,226.1 381.7,225.6 382.0,225.0 382.2,224.4 382.5,223.9 382.8,223.3 383.1,222.8 383.4,222.2 383.6,221.7 383.9,221.1 384.2,220.6 384.5,220.0 384.8,219.5 385.1,218.9 385.3,218.4 385.6,217.9 385.9,217.4 386.2,216.8 386.5,216.3 386.7,215.8 387.0,215.3 387.3,214.7 387.6,214.2 387.9,213.7 388.2,213.2 388.5,212.6 388.8,212.1 389.1,211.6 389.4,211.1 389.7,210.5 390.0,210.0 390.3,209.5 390.6,208.9 390.9,208.4 391.2,207.9 391.5,207.4 391.8,206.8 392.1,206.3 392.4,205.8 392.8,205.3 393.1,204.7 393.4,204.2 393.7,203.7 394.0,203.2 394.3,202.6 394.7,202.1 395.0,201.6 395.3,201.1 395.7,200.5 396.0,200.0 396.3,199.5 396.7,199.0 397.0,198.5 397.3,198.0 397.7,197.5 398.0,197.0 398.3,196.5 398.7,196.0 399.0,195.5 399.4,195.0 399.7,194.5 400.1,194.0 400.4,193.5 400.8,193.0 401.2,192.5 401.5,192.0 401.9,191.5 402.3,191.0 402.6,190.5 403.0,190.0 403.4,189.5 403.7,189.0 404.1,188.6 404.4,188.1 404.8,187.6 405.2,187.1 405.6,186.7 405.9,186.2 406.3,185.7 406.7,185.2 407.1,184.8 407.4,184.3 407.8,183.8 408.2,183.3 408.6,182.9 409.0,182.4 409.4,181.9 409.8,181.4 410.2,181.0 410.6,180.5 411.0,180.0 411.4,179.5 411.8,179.1 412.2,178.6 412.6,178.1 413.0,177.7 413.4,177.2 413.8,176.7 414.3,176.2 414.7,175.8 415.1,175.3 415.5,174.8 415.9,174.3 416.4,173.9 416.8,173.4 417.2,173.0 417.6,172.5 418.1,172.1 418.5,171.6 418.9,171.2 419.3,170.8 419.7,170.4 420.1,170.0 420.6,169.5 421.0,169.1 421.5,168.7 421.9,168.3 422.4,167.9 422.8,167.5 423.3,167.1 423.7,166.7 424.1,166.4 424.6,166.0 425.0,165.6 425.5,165.3 425.9,164.9 426.4,164.5 426.9,164.1 427.5,163.7 428.0,163.3 428.6,162.9 429.0,162.6 429.5,162.3 429.9,161.9 430.4,161.6 430.8,161.2 431.3,160.9 431.8,160.5 432.3,160.2 432.8,159.8 433.3,159.4 433.8,159.1 434.3,158.7 434.8,158.3 435.3,158.0 435.9,157.6 436.4,157.2 436.9,156.9 437.5,156.5 438.0,156.2 438.6,155.9 439.1,155.5 439.7,155.2 440.3,154.9 440.8,154.6 441.4,154.3 441.9,154.0 442.5,153.8 443.0,153.5 443.6,153.3 444.1,153.0 444.7,152.8 445.2,152.6 445.8,152.4 446.4,152.1 446.9,151.9 447.5,151.7 448.1,151.5 448.7,151.3 449.3,151.1 449.9,150.9 450.5,150.7 451.0,150.5 451.6,150.3 452.2,150.1 452.9,149.9 453.5,149.7 454.1,149.5 454.7,149.3 455.3,149.2 455.9,149.0 456.5,148.8 457.1,148.6 457.7,148.4 458.2,148.3 458.8,148.1 459.4,147.9 460.0,147.8 460.6,147.6 461.2,147.4 461.8,147.3 462.4,147.1 463.0,146.9 463.6,146.8 464.3,146.6 464.9,146.5 465.5,146.3 466.1,146.2 466.7,146.0 467.3,145.9 467.9,145.7 468.5,145.6 469.1,145.4 469.7,145.3 470.3,145.2 470.9,145.0 471.5,144.9 472.1,144.8 472.6,144.7 473.2,144.5 473.8,144.4 474.3,144.3 474.9,144.2 475.6,144.0 476.2,143.9 476.8,143.8 477.4,143.7 478.0,143.6 478.6,143.5 479.2,143.4 479.8,143.3 480.3,143.2 480.9,143.1 481.5,143.0 482.0,142.9 482.6,142.9 483.2,142.8 483.7,142.7 484.3,142.6 484.9,142.5 485.5,142.5 486.1,142.4 486.7,142.3 487.3,142.2 488.0,142.2 488.6,142.1 489.2,142.0 489.7,142.0 490.3,141.9 490.9,141.8 491.5,141.8 492.1,141.7 492.6,141.6 493.2,141.6 493.8,141.5 494.4,141.5 495.0,141.4 495.7,141.3 496.3,141.3 496.9,141.2 497.5,141.2 498.1,141.1 498.7,141.1 499.4,141.0 500.0,141.0 500.6,140.9 501.3,140.9 501.9,140.8 502.5,140.8 503.2,140.8 503.8,140.8 504.4,140.7 505.1,140.7 505.7,140.7 506.3,140.7 506.9,140.7 507.4,140.7 508.0,140.7 508.6,140.7 509.2,140.7 509.8,140.7 510.4,140.7 511.0,140.7 511.6,140.7 512.2,140.7 512.8,140.7 513.4,140.8 514.0,140.8 514.6,140.8 515.2,140.8 515.8,140.9 516.4,140.9 517.0,140.9 517.6,141.0 518.2,141.0 518.9,141.0 519.5,141.1 520.1,141.1 520.7,141.1 521.3,141.2 521.9,141.2 522.5,141.3 523.1,141.3 523.7,141.4 524.3,141.4 524.9,141.4 525.5,141.5 526.1,141.6 526.7,141.6 527.3,141.7 528.0,141.7 528.6,141.8 529.2,141.9 529.8,142.0 530.5,142.0 531.1,142.1 531.7,142.2 532.3,142.3 533.0,142.3 533.6,142.4 534.2,142.5 534.8,142.6 535.4,142.7 536.0,142.7 536.6,142.8 537.2,142.9 537.8,143.0 538.4,143.1 539.0,143.1 539.6,143.2 540.2,143.3 540.7,143.3 541.3,143.4 541.8,143.5 542.4,143.5 542.9,143.6 543.6,143.7 544.3,143.8 545.1,143.8 545.8,143.9 546.5,144.0 547.3,144.1 548.0,144.1 548.7,144.2 549.4,144.3 550.1,144.3 550.8,144.4 551.4,144.5 552.1,144.5 552.7,144.6 553.3,144.6 553.9,144.7 554.4,144.8 555.0,144.8 555.4,144.8 555.9,144.9 556.3,144.9 556.7,145.0 557.0,145.0" stroke="#000" stroke-width="2.9" fill="none" stroke-linejoin="round"/>
<path d="M643.4,511.8 644.3,513.0 645.6,514.6 647.0,516.5 647.9,517.7 648.8,519.0 649.7,520.3 650.7,521.7 651.8,523.0 652.9,524.3 654.1,525.6 655.3,526.9 656.6,528.2 657.8,529.6 658.8,530.8 659.8,532.1 660.8,533.4 661.8,534.7 662.8,536.0 663.8,537.3 664.8,538.5 665.7,539.6 666.6,540.7 667.5,541.9 668.7,543.3 670.0,545.0 670.8,546.0 671.6,547.0 672.4,548.1 673.3,549.3 674.2,550.5 675.2,551.7 676.2,553.0 677.2,554.4 678.2,555.7 679.2,557.1 680.3,558.6 681.3,560.0 682.1,561.1 682.9,562.3 683.8,563.5 684.7,564.8 685.5,566.0 686.5,567.4 687.4,568.7 688.3,570.0 689.2,571.3 690.1,572.6 690.9,574.0 691.8,575.2 692.6,576.5 693.4,577.7 694.2,578.9 694.9,580.0 695.9,581.6 696.8,583.0 697.6,584.5 698.4,585.8 699.2,587.2 699.9,588.5 700.6,589.8 701.3,591.0 702.0,592.3 702.7,593.7 703.5,595.0 704.3,596.4 705.0,597.7 705.8,599.1 706.6,600.5 707.4,601.8 708.1,603.2 708.9,604.5 709.7,605.9 710.4,607.3 711.2,608.6 711.9,610.0 712.6,611.4 713.4,612.7 714.1,614.1 714.8,615.5 715.5,616.8 716.3,618.2 717.0,619.5 717.7,620.9 718.4,622.3 719.1,623.6 719.8,625.0 720.5,626.4 721.2,627.7 721.9,629.1 722.6,630.5 723.3,631.8 724.0,633.2 724.7,634.5 725.4,635.9 726.1,637.3 726.7,638.6 727.4,640.0 728.1,641.4 728.7,642.7 729.4,644.1 730.0,645.5 730.6,646.8 731.3,648.2 731.9,649.5 732.5,650.9 733.2,652.3 733.8,653.6 734.4,655.0 735.1,656.5 735.7,658.0 736.4,659.5 737.1,661.0 737.7,662.5 738.4,664.0 739.0,665.5 739.7,667.0 740.3,668.5 741.0,670.0 741.7,671.5 742.3,673.0 743.0,674.5 743.7,676.0 744.4,677.5 745.0,679.0 745.7,680.5 746.4,682.0 747.0,683.5 747.7,685.0 748.3,686.5 749.0,687.8 749.6,689.2 750.2,690.5 750.8,691.9 751.4,693.3 752.0,694.8 752.6,696.4 753.3,698.1 754.0,700.0 754.4,701.2 754.9,702.5 755.3,703.8 755.8,705.2 756.2,706.7 756.7,708.1 757.2,709.6 757.7,711.2 758.1,712.7 758.6,714.3 759.1,715.9 759.6,717.4 760.1,718.9 760.6,720.5 761.0,721.9 761.5,723.4 762.0,724.8 762.5,726.4 763.1,727.9 763.6,729.5 764.2,731.0 764.8,732.5 765.3,734.1 765.9,735.6 766.5,737.1 767.0,738.5 767.6,740.0 768.1,741.4 768.6,742.8 769.1,744.2 769.6,745.6 770.0,746.9 770.6,748.7 771.1,750.3 771.6,752.0 772.0,753.5 772.4,755.1 772.8,756.6 773.2,758.1 773.6,759.6 774.0,761.1 774.5,762.6 774.9,764.2 775.3,765.6 775.7,767.1 776.1,768.6 776.6,770.0 777.0,771.5 777.4,772.9 777.8,774.4 778.2,775.8 778.7,777.3 779.1,778.7 779.5,780.1 779.9,781.5 780.3,783.0 780.8,784.5 781.2,786.0 781.7,787.5 782.1,788.9 782.6,790.4 783.0,791.8 783.5,793.3 783.9,794.7 784.4,796.1 784.8,797.5 785.3,799.0 785.8,800.6 786.3,802.1 786.8,803.6 787.3,805.1 787.8,806.6 788.3,808.1 788.8,809.5 789.3,811.0 789.8,812.4 790.3,814.0 790.9,815.6 791.4,817.1 791.9,818.7 792.5,820.2 793.0,821.7 793.6,823.2 794.1,824.6 794.7,826.0 795.5,827.7 796.3,829.2 797.2,830.7 798.0,832.1 798.9,833.5 799.7,835.0 800.5,836.5 801.1,837.9 801.7,839.3 802.3,840.7 802.8,842.2 803.4,843.7 804.0,845.2 804.7,846.7 805.4,848.2 806.1,849.6 806.9,851.0 807.7,852.4 808.5,853.9 809.4,855.3 810.2,856.8 811.1,858.2 812.0,859.7 812.9,861.1 813.7,862.4 814.5,863.6 815.4,864.9 816.2,866.2 817.1,867.4 817.9,868.7 818.8,870.0 819.7,871.3 820.5,872.6 821.4,873.9 822.3,875.2 823.1,876.6 824.0,878.0 824.9,879.4 825.8,880.8 826.6,882.3 827.5,883.7 828.3,885.1 829.2,886.4 830.0,887.8 830.9,889.3 831.7,890.7 832.6,892.1 833.4,893.5 834.2,895.0 835.0,896.4 835.9,897.8 836.7,899.2 837.5,900.7 838.3,902.1 839.0,903.4 839.8,904.9 840.6,906.3 841.3,907.7 842.1,909.1 842.8,910.6 843.6,911.9 844.3,913.3 845.0,914.6 845.8,916.2 846.7,917.7 847.4,919.2 848.2,920.6 849.0,922.1 849.7,923.5 850.6,924.9 851.4,926.4 852.2,927.7 853.0,929.1 853.8,930.5 854.7,931.9 855.5,933.3 856.4,934.7 857.2,935.9 858.1,937.1 858.9,938.2 860.1,939.6 861.3,940.9 862.5,941.9 863.7,942.9 865.0,943.8 866.4,944.6 867.9,945.4 869.4,946.1 871.1,946.7 872.7,947.2 874.4,947.6 876.0,947.8 877.6,947.8 879.3,947.7 880.9,947.5 882.5,947.1 884.1,946.7 885.7,946.2 887.2,945.6 888.7,945.0 890.1,944.2 891.6,943.4 892.9,942.5 894.3,941.4 895.4,940.4 896.6,939.2 897.6,938.0 898.7,936.8 899.8,935.4 900.8,934.1 901.8,932.8 902.8,931.5 903.7,930.2 904.7,928.9 905.6,927.6 906.5,926.2 907.4,924.8 908.2,923.2 908.8,921.9 909.4,920.6 910.0,919.3 910.6,917.9 911.2,916.4 911.8,915.0 912.3,913.4 912.9,911.9 913.5,910.3 914.0,909.0 914.5,907.6 915.0,906.2 915.5,904.7 915.9,903.2 916.4,901.8 916.9,900.3 917.4,898.8 917.9,897.3 918.4,895.8 918.9,894.3 919.4,892.8 919.9,891.4 920.4,889.9 920.9,888.5 921.4,887.0 921.9,885.5 922.4,884.1 922.9,882.6 923.4,881.1 923.9,879.7 924.3,878.2 924.7,876.7 925.1,875.3 925.5,873.8 925.9,872.3 926.3,870.9 926.7,869.4 927.0,867.9 927.4,866.5 927.7,865.0 928.1,863.6 928.5,862.1 928.9,860.6 929.3,859.2 929.7,857.7 930.1,856.3 930.5,854.8 931.0,853.4 931.4,851.9 931.8,850.5 932.1,849.0 932.5,847.6 932.8,846.1 933.1,844.6 933.4,843.1 933.6,841.7 933.8,840.3 933.9,838.9 934.1,837.5 934.3,835.9 934.6,834.1 934.9,832.2 935.3,830.0 935.5,828.8 935.8,827.6 936.0,826.2 936.3,824.9 936.6,823.4 936.9,822.0 937.2,820.5 937.5,818.9 937.8,817.4 938.1,815.8 938.5,814.2 938.8,812.6 939.1,810.9 939.5,809.3 939.8,807.7 940.2,806.1 940.5,804.5 940.8,802.9 941.2,801.4 941.5,799.9 941.8,798.4 942.2,796.9 942.5,795.5 942.8,794.0 943.2,792.5 943.5,791.0 943.9,789.6 944.2,788.1 944.6,786.6 944.9,785.2 945.2,783.7 945.6,782.2 945.9,780.8 946.3,779.3 946.7,777.8 947.0,776.4 947.4,774.9 947.7,773.4 948.1,772.0 948.4,770.5 948.7,769.0 949.1,767.6 949.5,766.1 949.8,764.6 950.2,763.1 950.5,761.6 950.9,760.1 951.3,758.7 951.6,757.2 952.0,755.7 952.4,754.2 952.7,752.7 953.1,751.3 953.4,749.8 953.8,748.3 954.1,746.9 954.4,745.4 954.8,744.0 955.1,742.5 955.4,741.1 955.7,739.5 956.1,737.9 956.4,736.3 956.7,734.8 957.0,733.2 957.3,731.6 957.6,730.0 957.8,728.5 958.1,726.9 958.4,725.4 958.7,723.8 958.9,722.3 959.2,720.8 959.5,719.3 959.8,717.8 960.0,716.3 960.3,714.8 960.6,713.4 960.9,711.8 961.2,710.2 961.6,708.6 961.9,707.0 962.2,705.4 962.5,703.8 962.8,702.3 963.1,700.8 963.5,699.2 963.8,697.7 964.1,696.3 964.4,694.8 964.7,693.4 965.1,692.0 965.4,690.6 965.7,689.2 966.1,687.6 966.5,686.0 966.9,684.5 967.2,683.0 967.6,681.6 968.0,680.2 968.4,678.8 968.8,677.4 969.2,676.0 969.6,674.6 970.0,673.2 970.4,671.7 970.9,670.2 971.3,668.8 971.8,667.3 972.3,665.9 972.8,664.4 973.3,662.9 973.8,661.4 974.3,659.9 974.8,658.4 975.3,656.9 975.8,655.4 976.4,653.9 976.9,652.4 977.4,650.9 977.9,649.4 978.4,647.9 978.9,646.5 979.4,645.1 979.9,643.6 980.4,642.2 980.9,640.8 981.4,639.4 981.9,638.0 982.5,636.5 983.0,635.0 983.5,633.5 984.0,632.0 984.5,630.4 985.0,628.8 985.4,627.4 985.8,626.0 986.3,624.6 986.7,623.1 987.1,621.6 987.6,620.0 988.0,618.5 988.4,616.9 988.9,615.4 989.3,613.8 989.7,612.3 990.1,610.7 990.6,609.2 991.0,607.7 991.4,606.2 991.8,604.8 992.2,603.4 992.7,601.8 993.1,600.3 993.5,598.8 994.0,597.3 994.4,595.8 994.8,594.4 995.2,592.9 995.7,591.5 996.1,590.1 996.5,588.7 996.9,587.3 997.3,585.9 997.8,584.5 998.2,583.1 998.6,581.7 999.1,580.1 999.6,578.4 1000.0,576.7 1000.5,575.0 1000.9,573.3 1001.4,571.7 1001.9,570.0 1002.3,568.4 1002.8,566.9 1003.3,565.5 1003.8,564.1 1004.4,562.8 1004.9,561.7 1006.0,559.8 1007.1,558.1 1008.3,556.6 1009.5,555.4 1010.7,554.5 1011.9,553.9 1013.1,553.6 1014.5,553.7 1015.8,554.3 1017.2,555.3 1018.6,556.6 1019.9,558.2 1021.2,559.9 1021.9,561.0 1022.5,562.1 1023.2,563.4 1023.8,564.8 1024.4,566.2 1025.0,567.7 1025.6,569.2 1026.3,570.7 1027.0,572.3 1027.7,573.8 1028.5,575.3 1029.2,576.6 1030.0,577.9 1030.8,579.2 1031.7,580.5 1032.6,581.8 1033.5,583.2 1034.3,584.5 1035.2,585.9 1036.1,587.2 1037.0,588.6 1037.8,589.9 1038.6,591.2 1039.3,592.5 1040.1,594.0 1040.8,595.4 1041.5,596.8 1042.2,598.1 1042.9,599.5 1043.5,600.8 1044.1,602.2 1044.7,603.7 1045.3,605.3 1046.0,607.0 1046.6,608.8 1047.0,610.1 1047.5,611.4 1047.9,612.7 1048.3,614.2 1048.8,615.6 1049.2,617.1 1049.7,618.6 1050.1,620.2 1050.5,621.7 1051.0,623.3 1051.4,624.9 1051.8,626.5 1052.2,628.0 1052.6,629.6 1053.0,631.2 1053.4,632.7 1053.8,634.2 1054.2,635.7 1054.5,637.2 1054.9,638.7 1055.2,640.2 1055.5,641.7 1055.9,643.2 1056.2,644.7 1056.5,646.2 1056.8,647.7 1057.1,649.2 1057.4,650.7 1057.7,652.2 1058.0,653.7 1058.4,655.1 1058.7,656.6 1059.0,658.1 1059.3,659.5 1059.6,661.0 1060.0,662.5 1060.3,664.1 1060.6,665.6 1061.0,667.1 1061.3,668.6 1061.6,670.1 1062.0,671.6 1062.3,673.0 1062.6,674.5 1063.0,676.0 1063.3,677.4 1063.6,678.9 1064.0,680.3 1064.3,681.7 1064.7,683.1 1065.1,684.7 1065.5,686.3 1066.0,687.9 1066.4,689.5 1066.9,691.1 1067.3,692.7 1067.8,694.3 1068.2,695.8 1068.7,697.3 1069.1,698.8 1069.6,700.2 1070.0,701.6 1070.5,702.9 1070.9,704.1 1071.6,705.9 1072.2,707.5 1072.9,709.0 1073.6,710.4 1074.2,711.7 1074.9,712.9 1075.6,714.2 1076.3,715.4 1077.1,716.7 1077.9,718.0 1078.7,719.3 1079.6,720.6 1080.4,721.9 1081.3,723.2 1082.2,724.4 1083.1,725.5 1084.0,726.7 1085.0,727.7 1086.3,728.9 1087.5,730.1 1088.8,731.1 1090.2,732.1 1091.6,733.0 1093.0,733.9 1094.4,734.8 1095.7,735.5 1097.1,736.2 1098.5,736.9 1100.0,737.5 1101.4,738.1 1102.8,738.8 1104.2,739.5 1105.4,740.3 1106.7,741.3 1107.9,742.3 1109.1,743.4 1110.2,744.5 1111.2,745.7 1112.3,746.9 1113.3,748.1 1114.3,749.3 1115.2,750.5 1116.1,751.7 1117.0,753.0 1117.8,754.4 1118.7,755.9 1119.6,757.6 1120.2,758.8 1120.8,760.2 1121.3,761.6 1121.9,763.1 1122.5,764.7 1123.1,766.2 1123.7,767.8 1124.2,769.3 1124.8,770.7 1125.4,772.1 1125.9,773.3 1126.7,775.0 1127.6,776.6 1128.4,778.1 1129.1,779.4 1129.9,780.6 1130.7,781.7 1131.4,782.7 1132.6,784.2 1133.7,785.5 1134.8,786.3 1136.1,786.6 1137.6,786.2 1139.3,785.3 1141.0,784.0 1142.4,782.7 1143.5,781.4 1144.3,779.9 1145.2,778.2 1146.3,776.4 1147.1,775.2 1147.9,774.0 1148.8,772.8 1149.7,771.4 1150.6,770.0 1151.6,768.5 1152.6,767.0 1153.4,765.8 1154.2,764.5 1155.0,763.2 1155.9,761.8 1156.7,760.4 1157.6,758.9 1158.5,757.5 1159.5,756.0 1160.4,754.4 1161.1,753.2 1161.9,751.9 1162.6,750.7 1163.4,749.3 1164.1,748.0 1164.9,746.6 1165.7,745.3 1166.5,743.9 1167.3,742.6 1168.1,741.3 1169.0,740.0 1169.8,738.7 1170.7,737.4 1171.7,736.0 1172.6,734.7 1173.6,733.5 1174.6,732.2 1175.6,730.9 1176.6,729.7 1177.6,728.4 1178.7,727.1 1179.7,725.9 1180.8,724.6 1181.8,723.4 1182.8,722.2 1183.9,720.9 1185.0,719.6 1186.1,718.4 1187.2,717.1 1188.3,715.9 1189.4,714.7 1190.4,713.5 1191.5,712.4 1192.5,711.4 1193.4,710.4 1194.7,709.1 1196.0,707.9 1197.3,706.8 1198.5,705.8 1199.6,704.9 1200.7,704.1 1201.8,703.3 1202.8,702.6 1204.6,701.3 1206.0,700.3 1207.5,699.6 1209.1,699.4 1210.6,699.6 1212.2,700.2 1213.9,701.0 1215.5,702.1 1217.0,703.4 1218.0,704.5 1218.9,705.6 1219.8,706.9 1220.7,708.3 1221.5,709.9 1222.4,711.6 1223.3,713.6 1223.8,714.8 1224.3,716.0 1224.8,717.3 1225.3,718.7 1225.8,720.2 1226.3,721.7 1226.8,723.2 1227.3,724.8 1227.8,726.3 1228.3,727.9 1228.7,729.4 1229.2,730.9 1229.6,732.4 1230.0,734.0 1230.5,735.5 1230.9,737.1 1231.3,738.6 1231.7,740.2 1232.0,741.8 1232.4,743.3 1232.8,744.9 1233.2,746.5 1233.5,748.1 1233.9,749.7 1234.3,751.3 1234.7,752.8 1235.0,754.4 1235.4,755.9 1235.7,757.5 1236.1,759.0 1236.5,760.6 1236.8,762.2 1237.2,763.8 1237.6,765.4 1237.9,767.0 1238.3,768.5 1238.6,770.1 1239.0,771.7 1239.4,773.3 1239.7,774.8 1240.1,776.4 1240.4,777.9 1240.8,779.5 1241.2,781.0 1241.5,782.6 1241.9,784.1 1242.3,785.7 1242.6,787.3 1243.0,788.9 1243.3,790.5 1243.7,792.1 1244.0,793.6 1244.4,795.2 1244.7,796.8 1245.1,798.4 1245.4,800.1 1245.8,801.7 1246.1,803.4 1246.5,805.0 1246.8,806.6 1247.2,808.2 1247.5,809.8 1247.8,811.3 1248.1,812.7 1248.4,814.1 1248.8,816.0 1249.2,817.7 1249.5,819.4 1249.9,821.0 1250.2,822.6 1250.5,824.2 1250.8,825.6 1251.2,827.1 1251.5,828.6 1251.8,830.0 1252.2,831.8 1252.6,833.5 1253.0,835.1 1253.4,836.7 1253.8,838.3 1254.2,839.8 1254.6,841.3 1255.0,842.8 1255.4,844.4 1255.9,845.9 1256.3,847.4 1256.7,848.9 1257.1,850.3 1257.6,851.9 1258.2,853.5 1258.7,854.8 1259.2,856.3 1259.8,857.7 1260.3,859.2 1260.9,860.7 1261.6,862.2 1262.2,863.6 1262.8,865.1 1263.5,866.4 1264.3,867.8 1265.0,869.2 1265.9,870.4 1266.7,871.7 1267.5,872.9 1268.4,874.3 1269.2,875.6 1270.0,877.1 1270.6,878.4 1271.3,879.7 1271.9,881.1 1272.5,882.5 1273.1,884.0 1273.8,885.4 1274.4,886.9 1275.1,888.3 1275.7,889.7 1276.4,891.0 1277.2,892.4 1278.0,893.7 1278.8,895.1 1279.7,896.3 1280.5,897.6 1281.4,898.9 1282.2,900.2 1283.1,901.5 1283.9,902.8 1284.7,904.2 1285.6,905.7 1286.4,907.1 1287.3,908.7 1288.1,910.1 1289.0,911.6 1289.8,913.0 1290.6,914.4 1291.4,915.6 1292.4,917.1 1293.3,918.4 1294.3,919.6 1295.2,920.8 1296.1,921.9 1296.9,923.1 1297.8,924.2 1298.7,925.5 1299.6,926.8 1300.8,927.9 1301.3,929.3 1302.4,930.4 1303.1,931.8 1304.1,933.0 1305.7,933.9 1306.8,935.1 1307.2,937.0 1308.8,937.5 1309.8,938.3 1311.2,940.1 1313.2,940.0 1314.8,940.7 1316.6,940.5 1318.3,940.8 1320.1,940.4 1321.8,941.3 1323.8,941.9 1325.6,941.3 1326.9,940.9 1327.9,939.8 1328.3,938.1 1330.1,937.2 1330.9,936.0 1331.7,934.5 1332.6,932.9 1334.5,932.2 1335.2,930.6 1336.5,929.8 1338.2,928.9 1339.7,927.9 1341.3,927.5 1342.1,926.2 1342.9,925.0 1342.7,923.1 1343.8,922.4 1344.6,921.3 1344.8,919.5 1345.8,918.2 1346.9,916.8 1348.6,915.9 1348.8,914.2 1349.8,912.9 1350.5,911.3 1351.3,909.8 1352.1,908.3 1352.8,907.1 1353.5,906.0 1355.0,904.3 1356.3,903.4 1357.2,902.8" stroke="#ec0000" stroke-width="2.9" fill="none" stroke-linejoin="round"/>
<path d="M644.3,296.4 645.3,297.3 646.7,298.6 648.2,299.9 649.4,300.8 650.7,301.8 652.0,302.8 653.2,303.8 654.4,304.8 655.5,305.8 656.6,306.8 657.8,307.8 659.1,308.9 660.5,310.1 661.8,311.3 663.1,312.4 664.6,313.7 666.0,315.0 667.3,316.4 668.3,317.6 669.3,318.8 670.3,320.1 671.3,321.3 672.6,322.8 673.8,324.2 674.9,325.6 675.9,326.9 676.9,328.1 677.9,329.5 678.7,330.8 679.5,332.1 680.4,333.6 681.2,335.0 682.0,336.5 682.9,337.9 683.7,339.5 684.5,341.0 685.3,342.5 686.0,344.0 686.7,345.6 687.6,347.5 688.2,348.7 688.7,350.1 689.4,351.5 690.0,353.0 690.7,354.4 691.3,355.9 691.9,357.3 692.6,358.8 693.3,360.3 693.9,361.7 694.6,363.2 695.3,364.8 695.9,366.5 696.4,367.9 696.8,369.5 697.3,371.1 697.7,372.8 698.2,374.5 698.6,376.1 699.0,377.7 699.4,379.2 699.9,380.8 700.3,382.2 700.7,383.6 701.1,385.0 701.5,386.4 701.9,388.0 702.3,389.6 702.6,391.0 702.9,392.5 703.1,394.1 703.4,395.7 703.6,397.4 703.9,399.0 704.1,400.6 704.4,402.0 704.6,403.4 704.9,405.2 705.3,406.7 705.6,408.1 705.9,409.5 706.2,411.1 706.5,413.0 706.7,414.3 706.9,415.7 707.1,417.1 707.3,418.6 707.6,420.2 707.8,421.8 708.0,423.4 708.2,425.1 708.5,426.8 708.7,428.5 708.9,429.9 709.1,431.4 709.3,432.9 709.5,434.5 709.7,436.0 709.9,437.6 710.1,439.2 710.3,440.8 710.5,442.4 710.7,444.0 710.9,445.5 711.1,447.1 711.3,448.6 711.4,450.2 711.6,451.7 711.8,453.3 711.9,454.8 712.1,456.4 712.2,457.9 712.4,459.4 712.5,461.0 712.7,462.5 712.8,464.1 713.0,465.6 713.2,467.1 713.3,468.7 713.4,470.2 713.6,471.8 713.7,473.3 713.9,474.9 714.0,476.5 714.2,478.0 714.3,479.6 714.5,481.1 714.6,482.7 714.8,484.2 715.0,485.7 715.2,487.3 715.4,488.8 715.6,490.4 715.8,491.9 716.0,493.5 716.2,495.0 716.4,496.5 716.7,498.1 716.9,499.6 717.1,501.2 717.3,502.7 717.5,504.2 717.7,505.8 717.9,507.4 718.1,508.9 718.3,510.5 718.6,512.0 718.8,513.6 719.0,515.1 719.2,516.7 719.4,518.2 719.6,519.7 719.8,521.2 720.0,522.9 720.2,524.6 720.5,526.3 720.7,528.1 720.9,529.8 721.1,531.5 721.3,533.2 721.6,534.7 721.8,536.1 722.0,537.4 722.2,538.6 722.8,541.2 723.3,543.1 723.9,544.3 724.5,544.7 725.1,544.3 725.8,543.1 726.4,541.2 727.2,538.6 727.5,537.4 727.8,536.1 728.1,534.6 728.5,533.0 728.8,531.4 729.2,529.7 729.5,527.9 729.9,526.2 730.2,524.4 730.6,522.8 730.9,521.2 731.3,519.5 731.6,517.9 732.0,516.3 732.4,514.7 732.8,513.1 733.1,511.5 733.5,510.0 733.9,508.4 734.2,506.8 734.6,505.2 734.9,503.7 735.3,502.2 735.6,500.7 735.9,499.1 736.3,497.6 736.6,496.1 737.0,494.6 737.3,493.1 737.6,491.7 738.0,490.4 738.3,489.1 738.8,487.2 739.3,485.4 739.8,483.7 740.3,482.1 740.9,480.6 741.4,479.2 742.0,478.0 743.1,476.1 744.3,474.4 745.5,473.3 746.7,473.0 747.7,473.4 748.8,474.4 749.9,475.8 750.9,477.5 751.9,479.2 752.5,480.5 753.1,481.9 753.6,483.5 754.1,485.1 754.6,486.8 755.1,488.5 755.6,490.3 756.0,491.7 756.3,493.1 756.7,494.6 757.1,496.1 757.4,497.6 757.7,499.2 758.1,500.7 758.4,502.3 758.7,503.9 759.0,505.3 759.2,506.8 759.5,508.3 759.8,509.8 760.0,511.3 760.3,512.8 760.5,514.3 760.8,515.8 761.0,517.3 761.2,518.8 761.4,520.4 761.6,522.0 761.8,523.6 762.0,525.2 762.2,526.9 762.4,528.5 762.6,530.1 762.8,531.8 763.0,533.6 763.2,535.1 763.3,536.5 763.5,538.0 763.7,539.4 763.9,540.9 764.1,542.5 764.3,544.0 764.4,545.6 764.6,547.3 764.8,549.1 764.9,550.9 765.0,552.3 765.1,553.7 765.2,555.2 765.2,556.8 765.3,558.3 765.4,559.9 765.4,561.5 765.5,563.2 765.6,564.8 765.6,566.5 765.7,568.1 765.8,569.8 765.9,571.4 766.0,573.1 766.1,574.7 766.2,576.2 766.4,577.7 766.5,579.3 766.6,580.8 766.8,582.3 766.9,583.9 767.1,585.4 767.3,587.0 767.4,588.5 767.6,590.1 767.8,591.6 767.9,593.2 768.1,594.7 768.3,596.3 768.4,597.9 768.6,599.4 768.8,600.9 768.9,602.5 769.1,604.0 769.2,605.6 769.4,607.1 769.5,608.7 769.7,610.2 769.8,611.8 770.0,613.4 770.1,614.9 770.3,616.5 770.4,618.0 770.6,619.6 770.8,621.1 770.9,622.7 771.1,624.2 771.3,625.7 771.5,627.3 771.6,628.8 771.8,630.4 772.0,631.9 772.2,633.5 772.4,635.0 772.6,636.6 772.8,638.1 773.0,639.6 773.2,641.2 773.4,642.7 773.6,644.3 773.8,645.8 774.0,647.4 774.2,648.9 774.4,650.5 774.6,652.0 774.8,653.6 775.0,655.3 775.2,656.9 775.4,658.5 775.6,660.2 775.8,661.8 776.0,663.4 776.2,664.9 776.3,666.5 776.5,668.0 776.7,669.5 776.9,670.9 777.0,672.3 777.2,673.6 777.4,675.4 777.6,677.1 777.8,678.8 778.0,680.3 778.2,681.8 778.4,683.3 778.5,684.7 778.7,686.0 778.9,687.4 779.0,688.7 779.2,690.0 779.4,691.7 779.7,693.3 779.9,694.8 780.1,696.3 780.3,697.8 780.6,699.2 780.8,700.8 781.1,702.4 781.3,703.8 781.5,705.3 781.8,706.8 782.0,708.4 782.2,710.0 782.5,711.5 782.7,713.0 783.0,714.5 783.3,715.9 783.6,717.2 784.0,718.9 784.5,720.6 785.0,722.2 785.5,723.7 786.0,725.0 786.6,726.2 787.3,727.1 788.7,728.0 790.4,728.3 792.1,728.4 793.5,728.9 794.6,729.9 795.5,731.1 796.3,732.6 797.2,734.5 797.7,735.8 798.3,737.2 798.8,738.8 799.4,740.5 799.9,742.2 800.4,743.9 800.9,745.6 801.3,747.1 801.7,748.6 802.1,750.2 802.5,751.7 802.9,753.3 803.2,754.9 803.6,756.4 804.0,758.0 804.4,759.5 804.8,761.1 805.1,762.6 805.5,764.1 805.9,765.6 806.3,767.1 806.7,768.7 807.1,770.3 807.5,771.8 807.9,773.4 808.2,775.0 808.6,776.7 809.0,778.3 809.5,779.9 809.9,781.4 810.3,782.7 810.8,783.9 811.7,785.6 812.7,786.9 813.7,788.0 814.7,789.0 815.7,790.1 816.7,791.3 817.8,792.3 818.8,793.5 819.8,794.7 820.7,796.3 821.3,797.6 821.9,799.1 822.4,800.6 823.0,802.3 823.5,804.0 823.9,805.7 824.4,807.4 824.8,808.9 825.1,810.5 825.5,812.1 825.8,813.7 826.1,815.3 826.4,816.8 826.6,818.3 826.9,819.8 827.2,821.6 827.4,823.1 827.6,824.7 827.8,826.2 828.1,828.0 828.4,830.0 828.6,831.4 828.9,832.8 829.1,834.4 829.4,836.0 829.6,837.7 829.9,839.4 830.2,841.1 830.5,842.8 830.8,844.5 831.1,846.1 831.4,847.7 831.7,849.3 832.0,850.9 832.3,852.5 832.6,854.1 833.0,855.7 833.3,857.3 833.6,858.9 834.0,860.5 834.3,862.1 834.6,863.6 834.9,865.0 835.2,866.5 835.6,867.9 835.9,869.4 836.2,870.9 836.6,872.3 836.9,873.8 837.3,875.3 837.6,876.7 838.0,878.2 838.4,879.7 838.8,881.2 839.2,882.7 839.6,884.3 840.1,885.8 840.5,887.3 841.0,888.8 841.4,890.3 841.9,891.7 842.3,893.0 842.8,894.3 843.5,896.2 844.2,897.9 845.0,899.5 845.7,901.0 846.5,902.5 847.3,903.8 848.2,905.0 849.3,906.4 850.6,907.7 851.9,908.9 853.2,909.8 854.5,910.5 855.7,910.9 857.4,910.7 859.0,909.8 860.5,908.5 862.1,907.1 863.2,906.0 864.3,904.7 865.4,903.3 866.5,901.9 867.6,900.6 868.6,899.6 870.1,898.3 871.6,897.3 873.0,896.6 874.4,896.4 875.8,896.8 877.2,897.7 878.5,899.0 879.8,900.7 880.5,901.9 881.2,903.3 881.8,904.8 882.5,906.4 883.1,908.1 883.8,909.8 884.6,911.4 885.3,912.9 886.1,914.7 886.9,916.5 887.8,918.3 888.6,920.0 889.4,921.4 890.2,922.5 891.0,923.2 892.2,923.3 893.3,922.6 894.4,921.3 895.5,919.6 896.4,917.8 896.9,916.6 897.4,915.2 897.8,913.7 898.2,912.1 898.6,910.4 898.9,908.6 899.3,906.8 899.6,905.0 899.9,903.5 900.1,902.0 900.3,900.4 900.6,898.8 900.8,897.2 901.0,895.5 901.2,893.8 901.4,892.2 901.6,890.5 901.8,888.9 902.0,887.3 902.2,885.7 902.5,884.1 902.7,882.5 902.9,880.8 903.1,879.2 903.3,877.6 903.5,876.0 903.7,874.4 903.9,872.8 904.1,871.2 904.3,869.6 904.4,868.0 904.6,866.4 904.7,864.8 904.9,863.2 905.0,861.6 905.2,860.0 905.3,858.4 905.5,856.8 905.7,855.2 905.8,853.5 906.0,851.8 906.2,850.1 906.3,848.4 906.5,846.8 906.7,845.1 906.8,843.6 907.0,842.1 907.1,840.7 907.3,839.1 907.4,838.0 907.5,837.1 907.5,836.1 907.7,834.8 907.8,832.9 908.0,830.0 908.1,829.0 908.1,827.8 908.2,826.6 908.3,825.3 908.4,824.0 908.5,822.5 908.6,821.1 908.7,819.5 908.8,817.9 908.9,816.3 909.0,814.7 909.1,813.0 909.2,811.3 909.3,809.6 909.4,807.9 909.5,806.1 909.6,804.4 909.8,802.7 909.9,801.0 910.0,799.3 910.1,797.7 910.2,796.1 910.3,794.5 910.4,793.0 910.5,791.4 910.6,789.9 910.7,788.4 910.9,786.8 911.0,785.3 911.1,783.8 911.2,782.3 911.3,780.8 911.4,779.3 911.6,777.8 911.7,776.3 911.8,774.8 911.9,773.3 912.0,771.8 912.2,770.3 912.3,768.9 912.4,767.4 912.5,765.9 912.6,764.4 912.7,762.9 912.8,761.4 912.9,759.9 913.0,758.4 913.1,756.9 913.2,755.4 913.3,753.9 913.3,752.4 913.4,750.9 913.5,749.4 913.6,747.9 913.6,746.4 913.7,744.9 913.8,743.4 913.8,741.9 913.9,740.3 913.9,738.8 914.0,737.3 914.1,735.8 914.1,734.3 914.2,732.8 914.3,731.3 914.4,729.8 914.4,728.3 914.5,726.8 914.6,725.3 914.7,723.8 914.8,722.3 914.9,720.8 915.0,719.3 915.1,717.8 915.2,716.3 915.3,714.8 915.4,713.3 915.5,711.8 915.7,710.3 915.8,708.8 915.9,707.3 916.0,705.7 916.1,704.2 916.2,702.7 916.4,701.2 916.5,699.7 916.6,698.2 916.7,696.7 916.8,695.2 917.0,693.7 917.1,692.2 917.2,690.7 917.3,689.2 917.4,687.7 917.5,686.2 917.6,684.6 917.7,683.1 917.9,681.6 918.0,680.0 918.1,678.5 918.2,676.9 918.3,675.4 918.4,673.8 918.5,672.3 918.6,670.8 918.7,669.2 918.9,667.7 919.0,666.2 919.1,664.7 919.2,663.2 919.3,661.7 919.4,660.3 919.5,658.8 919.7,657.4 919.8,656.0 919.9,654.6 920.0,653.0 920.2,651.3 920.3,649.8 920.5,648.2 920.6,646.7 920.8,645.2 920.9,643.7 921.1,642.3 921.3,640.8 921.4,639.4 921.6,637.9 921.7,636.5 921.9,635.0 922.0,633.6 922.2,632.1 922.3,630.6 922.5,629.1 922.6,627.6 922.8,626.0 922.9,624.5 923.1,623.0 923.2,621.5 923.4,620.0 923.5,618.5 923.6,617.0 923.8,615.5 923.9,614.0 924.0,612.4 924.2,610.9 924.3,609.3 924.4,607.8 924.6,606.2 924.7,604.6 924.9,603.0 925.0,601.4 925.2,599.8 925.4,598.1 925.5,596.5 925.7,594.8 925.9,593.4 926.0,591.9 926.2,590.5 926.3,589.0 926.5,587.4 926.7,585.9 926.9,584.4 927.0,582.8 927.2,581.2 927.4,579.7 927.6,578.1 927.8,576.5 927.9,574.9 928.1,573.4 928.3,571.8 928.5,570.2 928.7,568.7 928.9,567.2 929.1,565.6 929.3,564.2 929.5,562.7 929.6,561.2 929.8,559.8 930.0,558.4 930.2,556.8 930.4,555.1 930.6,553.5 930.9,551.9 931.1,550.4 931.3,548.8 931.5,547.3 931.7,545.8 931.9,544.3 932.1,542.8 932.4,541.3 932.6,539.8 932.8,538.4 933.0,537.0 933.2,535.5 933.4,534.1 933.7,532.7 933.9,531.3 934.1,529.9 934.3,528.5 934.6,526.9 934.8,525.2 935.1,523.6 935.3,521.9 935.6,520.3 935.8,518.7 936.1,517.1 936.3,515.5 936.6,513.9 936.8,512.4 937.1,510.9 937.3,509.4 937.6,508.0 937.8,506.6 938.1,505.3 938.3,504.0 938.6,502.8 939.0,500.8 939.4,499.0 939.8,497.4 940.2,495.8 940.6,494.4 941.0,493.0 941.4,491.6 941.8,490.4 942.3,489.1 942.8,487.8 943.5,486.3 944.3,485.0 945.1,483.8 945.9,482.6 946.8,481.4 947.6,480.1 948.5,478.7 949.3,477.1 949.8,475.9 950.4,474.6 950.9,473.3 951.5,471.9 952.0,470.5 952.6,469.0 953.1,467.5 953.7,466.0 954.2,464.5 954.7,463.0 955.2,461.4 955.7,459.9 956.1,458.5 956.6,457.1 957.0,455.7 957.4,454.2 957.9,452.8 958.3,451.3 958.7,449.8 959.1,448.3 959.5,446.8 959.9,445.3 960.3,443.8 960.6,442.3 961.0,440.7 961.3,439.2 961.7,437.7 962.0,436.2 962.3,434.7 962.6,433.1 962.9,431.6 963.1,430.0 963.4,428.4 963.7,426.9 964.0,425.3 964.3,423.8 964.6,422.3 965.0,420.8 965.3,419.3 965.7,417.7 966.1,416.1 966.5,414.5 966.8,412.9 967.3,411.2 967.7,409.6 968.1,408.1 968.5,406.5 968.9,405.1 969.4,403.7 969.8,402.4 970.2,401.1 970.7,400.0 971.6,398.2 972.5,396.6 973.5,395.3 974.5,394.1 975.5,393.1 976.3,392.2 977.1,391.4 979.0,389.8 980.5,388.5 981.4,387.0 982.3,385.0 983.2,383.2 984.3,382.1 986.1,382.3 988.0,383.5 989.6,383.8 990.4,383.0 990.9,381.8 991.3,380.1 991.8,377.9 992.0,376.7 992.3,375.3 992.5,373.8 992.7,372.2 993.0,370.6 993.2,368.9 993.4,367.2 993.7,365.5 993.9,363.9 994.1,362.3 994.4,360.8 994.6,359.2 994.9,357.7 995.1,356.1 995.4,354.6 995.6,353.0 995.9,351.5 996.1,350.0 996.4,348.3 996.6,346.7 996.8,345.0 997.1,343.4 997.3,341.7 997.6,340.1 997.9,338.6 998.2,337.1 998.6,335.4 999.0,333.8 999.4,332.1 999.8,330.6 1000.3,329.1 1000.8,327.7 1001.4,326.4 1002.3,324.7 1003.4,323.1 1004.5,321.7 1005.7,320.6 1006.8,320.0 1008.2,320.0 1009.5,320.7 1010.8,321.8 1012.1,323.2 1012.9,324.3 1013.6,325.6 1014.4,327.1 1015.1,328.7 1015.8,330.2 1016.4,331.8 1017.0,333.4 1017.5,335.1 1018.1,336.9 1018.6,338.6 1019.1,340.1 1019.6,341.4 1020.6,343.3 1021.6,344.5 1022.9,345.2 1024.3,345.0 1026.0,344.4 1027.8,343.7 1029.3,343.6 1030.5,344.1 1031.6,345.0 1032.6,346.2 1033.6,347.9 1034.2,349.1 1034.8,350.5 1035.4,352.0 1036.1,353.7 1036.7,355.4 1037.3,357.0 1037.9,358.6 1038.5,360.2 1039.0,361.9 1039.6,363.7 1040.1,365.4 1040.7,366.9 1041.4,368.2 1042.1,369.3 1043.5,370.3 1045.1,370.5 1046.8,370.5 1048.6,370.9 1049.9,371.6 1051.4,372.5 1052.8,373.5 1054.3,374.4 1055.8,375.2 1057.1,375.7 1058.8,375.7 1060.3,375.1 1061.8,374.6 1063.6,374.6 1064.8,375.0 1066.2,375.7 1067.7,376.5 1069.2,377.3 1070.7,378.2 1072.0,378.9 1073.2,379.5 1075.3,380.1 1077.0,380.3 1078.6,381.1 1079.6,382.1 1080.7,383.3 1081.7,384.7 1082.8,386.1 1083.9,387.5 1084.9,388.6 1086.0,389.7 1087.1,390.8 1088.2,391.9 1089.3,392.9 1090.4,393.9 1091.7,395.0 1092.9,396.1 1094.2,397.1 1095.5,398.0 1096.8,398.8 1098.2,399.4 1099.8,399.9 1101.3,400.3 1102.9,400.7 1104.3,401.4 1105.7,402.2 1107.0,403.2 1108.3,404.2 1109.6,405.4 1110.7,406.8 1111.4,407.9 1112.1,409.2 1112.7,410.6 1113.3,412.0 1113.9,413.4 1114.4,414.9 1115.0,416.4 1115.6,417.8 1116.1,419.2 1116.6,420.6 1117.2,422.1 1117.7,423.7 1118.2,425.4 1118.7,427.3 1119.0,428.6 1119.3,430.1 1119.6,431.6 1119.9,433.2 1120.2,434.8 1120.4,436.5 1120.7,438.2 1121.1,439.8 1121.4,441.5 1121.7,443.1 1122.1,444.6 1122.5,446.2 1123.0,447.8 1123.4,449.4 1123.9,451.0 1124.4,452.5 1124.9,454.0 1125.4,455.6 1126.0,457.1 1126.6,458.6 1127.3,460.2 1128.0,461.7 1128.7,463.2 1129.5,464.7 1130.3,466.2 1131.2,467.8 1132.0,469.3 1132.9,470.8 1133.7,472.2 1134.5,473.5 1135.3,474.7 1136.0,475.8 1137.2,477.5 1138.3,478.8 1139.4,479.9 1140.4,480.8 1141.2,481.7 1142.0,482.7 1143.1,484.9 1143.9,486.9 1144.6,487.9 1145.3,486.6 1145.9,484.3 1147.2,483.5 1147.9,484.0 1148.8,485.0 1149.7,486.2 1150.7,487.6 1151.8,489.1 1152.9,490.6 1154.0,491.9 1155.0,493.1 1156.2,494.3 1157.4,495.6 1158.6,496.9 1159.9,498.0 1161.1,499.0 1162.4,499.7 1163.6,500.0 1165.0,499.9 1166.5,499.3 1167.9,498.4 1169.4,497.3 1170.9,496.1 1172.3,494.8 1173.4,493.8 1174.5,492.5 1175.7,491.2 1176.8,489.8 1177.9,488.4 1179.0,487.2 1180.0,486.1 1180.9,485.3 1182.9,484.1 1184.5,483.9 1186.1,484.4 1187.4,485.1 1188.7,486.2 1190.0,487.7 1191.3,489.6 1191.9,490.7 1192.6,492.0 1193.2,493.3 1193.9,494.8 1194.5,496.4 1195.2,498.0 1195.8,499.8 1196.5,501.7 1196.9,502.9 1197.3,504.2 1197.7,505.6 1198.1,507.0 1198.5,508.4 1199.0,509.9 1199.4,511.4 1199.8,512.9 1200.2,514.5 1200.6,516.1 1200.9,517.6 1201.3,519.2 1201.7,520.7 1202.0,522.1 1202.4,523.6 1202.7,525.1 1203.0,526.6 1203.3,528.1 1203.6,529.6 1204.0,531.1 1204.3,532.6 1204.6,534.1 1204.9,535.6 1205.1,537.1 1205.4,538.6 1205.7,540.1 1206.0,541.5 1206.3,543.2 1206.6,544.8 1206.9,546.4 1207.2,548.0 1207.5,549.6 1207.8,551.2 1208.1,552.8 1208.4,554.4 1208.6,555.9 1208.9,557.5 1209.2,559.0 1209.5,560.5 1209.8,562.2 1210.1,563.9 1210.4,565.6 1210.7,567.3 1211.0,569.0 1211.4,570.6 1211.7,572.2 1212.0,573.7 1212.3,575.2 1212.7,576.6 1213.0,577.8 1213.6,579.8 1214.3,581.4 1214.9,582.8 1215.6,584.1 1216.4,585.3 1217.3,586.5 1218.3,587.7 1219.5,588.8 1220.7,589.8 1221.9,590.9 1223.1,592.0 1224.2,593.4 1224.9,594.6 1225.6,595.8 1226.2,597.1 1226.8,598.5 1227.5,599.9 1228.1,601.3 1228.7,602.8 1229.3,604.3 1229.9,605.6 1230.5,606.8 1231.1,607.9 1231.8,609.1 1232.4,610.4 1233.0,611.8 1233.6,613.3 1234.1,615.1 1234.6,617.1 1234.8,618.3 1235.1,619.5 1235.3,620.9 1235.5,622.3 1235.7,623.7 1235.9,625.2 1236.1,626.8 1236.2,628.4 1236.4,630.0 1236.6,631.6 1236.7,633.3 1236.9,634.9 1237.1,636.6 1237.3,638.2 1237.5,639.8 1237.7,641.4 1237.9,642.9 1238.1,644.4 1238.3,645.9 1238.6,647.4 1238.8,648.9 1239.0,650.3 1239.3,651.8 1239.5,653.3 1239.7,654.7 1240.0,656.2 1240.2,657.7 1240.5,659.2 1240.7,660.7 1241.0,662.3 1241.3,663.8 1241.5,665.4 1241.8,667.0 1242.1,668.6 1242.3,670.0 1242.6,671.4 1242.8,672.9 1243.1,674.4 1243.4,675.9 1243.6,677.4 1243.9,679.0 1244.2,680.5 1244.4,682.0 1244.7,683.6 1245.0,685.2 1245.3,686.7 1245.6,688.2 1245.8,689.8 1246.1,691.3 1246.4,692.8 1246.7,694.3 1247.0,695.8 1247.2,697.2 1247.5,698.6 1247.8,700.2 1248.1,701.8 1248.4,703.4 1248.7,704.9 1249.0,706.5 1249.3,708.0 1249.6,709.5 1249.9,711.0 1250.2,712.5 1250.5,713.9 1250.9,715.4 1251.2,716.9 1251.5,718.3 1251.8,719.8 1252.2,721.3 1252.5,722.8 1252.9,724.3 1253.3,725.8 1253.7,727.3 1254.1,728.9 1254.5,730.4 1255.0,732.0 1255.4,733.5 1255.9,735.1 1256.3,736.6 1256.8,738.2 1257.2,739.7 1257.7,741.2 1258.1,742.8 1258.6,744.2 1259.0,745.7 1259.4,747.2 1259.8,748.6 1260.2,750.0 1260.6,751.7 1261.1,753.3 1261.5,754.9 1261.9,756.6 1262.2,758.1 1262.6,759.7 1263.0,761.2 1263.3,762.7 1263.7,764.2 1264.0,765.7 1264.4,767.2 1264.7,768.6 1265.1,770.0 1265.4,771.4 1265.8,773.2 1266.2,774.9 1266.6,776.7 1267.0,778.4 1267.4,780.1 1267.8,781.7 1268.2,783.3 1268.6,784.8 1269.1,786.2 1269.5,787.5 1270.0,788.6 1271.0,790.3 1272.0,791.5 1273.1,792.5 1274.2,793.3 1275.3,794.1 1276.4,795.0 1277.5,796.0 1278.6,797.0 1279.8,797.9 1280.9,798.9 1281.9,800.1 1282.9,801.4 1283.6,802.7 1284.3,804.2 1284.9,805.8 1285.4,807.4 1286.0,809.1 1286.5,810.6 1287.1,812.1 1287.8,813.7 1288.5,815.2 1289.2,816.7 1290.0,818.1 1290.7,819.5 1291.4,820.7 1292.4,822.5 1293.5,824.3 1294.5,825.6 1295.7,826.1 1296.7,825.9 1297.8,825.3 1299.0,824.2 1300.1,822.7 1301.1,820.7 1301.5,819.6 1301.9,818.4 1302.3,817.1 1302.7,815.6 1303.0,814.1 1303.4,812.5 1303.7,810.8 1304.1,809.0 1304.5,807.3 1304.9,805.4 1305.4,803.6 1305.7,802.3 1306.1,800.9 1306.4,799.4 1306.8,797.9 1307.2,796.3 1307.6,794.7 1307.9,793.0 1308.3,791.4 1308.7,789.8 1309.2,788.2 1309.6,786.6 1310.0,785.1 1310.4,783.7 1310.9,782.4 1311.3,781.1 1311.8,780.0 1312.7,778.3 1313.5,776.9 1314.5,775.7 1315.4,774.7 1316.4,773.8 1317.4,772.9 1318.4,771.9 1319.3,770.7 1320.3,769.3 1321.0,768.1 1321.8,766.8 1322.5,765.4 1323.2,764.0 1324.0,762.5 1324.7,761.0 1325.5,759.4 1326.2,757.9 1326.9,756.4 1327.6,754.9 1328.2,753.5 1328.8,752.1 1329.5,750.5 1330.1,749.0 1330.7,747.6 1331.2,746.1 1331.8,744.7 1332.3,743.3 1332.8,741.8 1333.3,740.3 1333.8,738.8 1334.3,737.1 1334.7,735.8 1335.1,734.4 1335.6,733.0 1336.0,731.6 1336.4,730.1 1336.9,728.7 1337.3,727.2 1337.7,725.6 1338.1,724.1 1338.5,722.6 1338.9,721.0 1339.3,719.5 1339.6,717.9 1339.9,716.4 1340.2,714.9 1340.4,713.4 1340.7,711.9 1340.9,710.4 1341.1,708.8 1341.3,707.3 1341.5,705.7 1341.7,704.2 1341.9,702.6 1342.2,701.0 1342.4,699.5 1342.6,697.9 1342.9,696.4 1343.2,694.9 1343.5,693.4 1343.7,691.9 1344.0,690.4 1344.3,688.9 1344.6,687.4 1344.9,686.0 1345.2,684.5 1345.6,683.0 1345.9,681.4 1346.2,679.9 1346.5,678.3 1346.8,676.7 1347.1,675.0 1347.4,673.6 1347.6,672.2 1347.9,670.8 1348.1,669.3 1348.4,667.8 1348.6,666.3 1348.9,664.8 1349.1,663.3 1349.4,661.8 1349.6,660.3 1349.9,658.7 1350.1,657.2 1350.4,655.6 1350.6,654.0 1350.9,652.5 1351.1,650.9 1351.4,649.3 1351.6,647.8 1351.9,646.2 1352.1,644.6 1352.4,643.0 1352.7,641.3 1352.9,639.6 1353.2,637.9 1353.4,636.2 1353.7,634.5 1353.9,632.9 1354.2,631.3 1354.4,629.7 1354.7,628.1 1354.9,626.6 1355.1,625.2 1355.3,623.8 1355.5,622.6 1355.7,621.4 1356.1,619.0 1356.4,616.8 1356.8,614.9 1357.1,613.3 1357.3,611.8 1357.6,610.5 1357.7,609.5 1357.9,608.6" stroke="#000" stroke-width="2.9" fill="none" stroke-linejoin="round"/>
<path d="M104.9 165.2 L106.2 157.4 L107.6 166.4" stroke="#000" stroke-width="2.4" fill="none" stroke-linejoin="miter"/>
<path d="M789.2 720.3 L812.6 701.7M813.3 775.9 L839.5 764.4M835.3 933.9 L851.4 915.2M898.5 922.1 L936.6 939.3" stroke="#000" stroke-width="1.6" fill="none"/>
<text x="56.8" y="1122.0" font-size="48" fill="#000" text-anchor="middle">4000</text>
<text x="223.0" y="1122.0" font-size="48" fill="#000" text-anchor="middle">3500</text>
<text x="390.5" y="1122.5" font-size="48" fill="#000" text-anchor="middle">3000</text>
<text x="557.2" y="1122.5" font-size="48" fill="#000" text-anchor="middle">2500</text>
<text x="722.4" y="1122.9" font-size="48" fill="#000" text-anchor="middle">1200</text>
<text x="881.1" y="1122.9" font-size="48" fill="#000" text-anchor="middle">1000</text>
<text x="1040.4" y="1122.9" font-size="48" fill="#000" text-anchor="middle">800</text>
<text x="1198.2" y="1122.9" font-size="48" fill="#000" text-anchor="middle">600</text>
<text x="1357.2" y="1122.9" font-size="48" fill="#000" text-anchor="middle">400</text>
<text x="129.4" y="603.7" font-size="40.5" fill="#000" text-anchor="middle">3612</text>
<text x="220.3" y="755.1" font-size="40.5" fill="#000" text-anchor="middle">3552</text>
<text x="283.1" y="703.1" font-size="40.5" fill="#000" text-anchor="middle">3418</text>
<text x="726.5" y="575.4" font-size="33" fill="#000" text-anchor="middle">1198</text>
<text x="841.0" y="685.8" font-size="40.5" fill="#000" text-anchor="middle">1118</text>
<text x="860.4" y="756.8" font-size="40.5" fill="#000" text-anchor="middle">1064</text>
<text x="785.5" y="948.5" font-size="40.5" fill="#000" text-anchor="middle">1030</text>
<text x="964.5" y="945.5" font-size="40.5" fill="#000" text-anchor="middle">988</text>
<text x="987.7" y="503.6" font-size="40.5" fill="#000" text-anchor="middle">915</text>
<text x="1019.9" y="422.6" font-size="40.5" fill="#000" text-anchor="middle">862</text>
<text x="1166.8" y="543.2" font-size="40.5" fill="#000" text-anchor="middle">644</text>
<text x="1298.3" y="862.1" font-size="40.5" fill="#000" text-anchor="middle">478</text>
<text x="247.8" y="963.8" font-size="40.5" fill="#ec0000" text-anchor="middle">3422</text>
<text x="350.5" y="885.2" font-size="40.5" fill="#ec0000" text-anchor="middle">3222</text>
<text x="880.5" y="993.0" font-size="40.5" fill="#ec0000" text-anchor="middle">1006</text>
<text x="1066.8" y="770.6" font-size="40.5" fill="#ec0000" text-anchor="middle">742</text>
<text x="1136.3" y="835.9" font-size="40.5" fill="#ec0000" text-anchor="middle">680</text>
<text x="1320.4" y="986.8" font-size="40.5" fill="#ec0000" text-anchor="middle">452</text>
<text x="413" y="1198" font-size="58" fill="#000">Wavenumber (cm<tspan font-size="34" dy="-31.7">-1</tspan><tspan dy="31.7">)</tspan></text></svg>
</body></html>
